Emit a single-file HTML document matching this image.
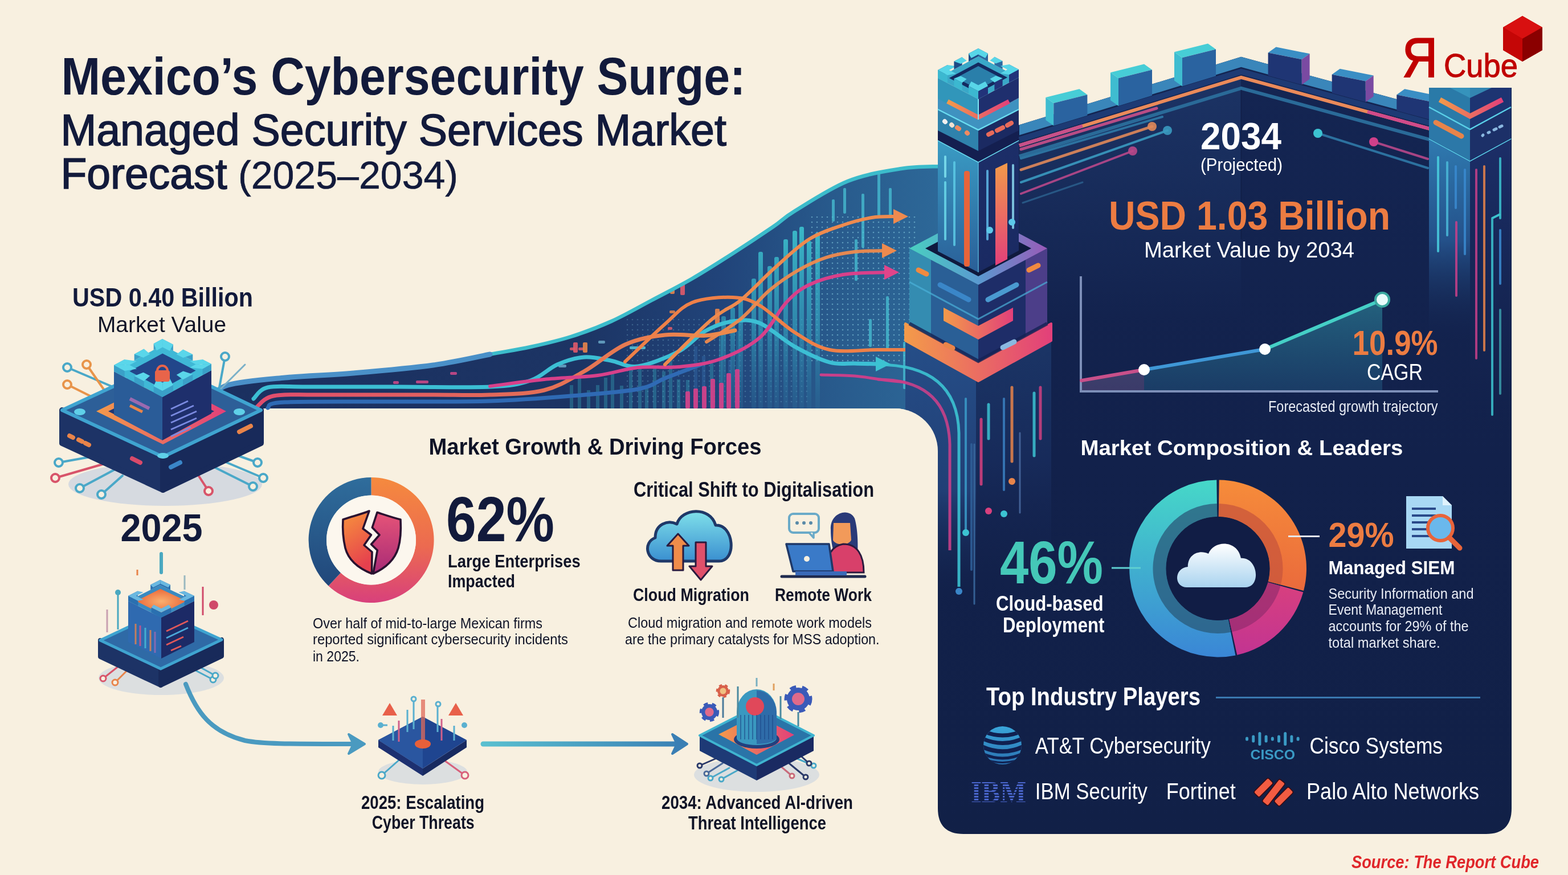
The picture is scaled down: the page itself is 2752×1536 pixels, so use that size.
<!DOCTYPE html>
<html><head><meta charset="utf-8"><title>Mexico's Cybersecurity Surge</title>
<style>html,body{margin:0;padding:0;background:#f8f0e0;}body{width:2752px;height:1536px;overflow:hidden;position:relative;}svg{display:block;position:absolute;left:0;top:0;}</style></head>
<body><svg width="2752" height="1536" viewBox="0 0 2752 1536">
<defs>
<linearGradient id="gWave" x1="0" y1="290" x2="0" y2="717" gradientUnits="userSpaceOnUse">
 <stop offset="0" stop-color="#2f78a6"/><stop offset="0.45" stop-color="#25527f"/><stop offset="1" stop-color="#1b3162"/>
</linearGradient>
<linearGradient id="gWaveH" x1="380" y1="0" x2="1650" y2="0" gradientUnits="userSpaceOnUse">
 <stop offset="0" stop-color="#1b2f5e" stop-opacity="0.6"/><stop offset="0.5" stop-color="#1b2f5e" stop-opacity="0.15"/><stop offset="1" stop-color="#1b2f5e" stop-opacity="0"/>
</linearGradient>
<linearGradient id="gPanel" x1="0" y1="150" x2="0" y2="1464" gradientUnits="userSpaceOnUse">
 <stop offset="0" stop-color="#142552"/><stop offset="0.5" stop-color="#12214b"/><stop offset="1" stop-color="#112047"/>
</linearGradient>
<linearGradient id="gOP" x1="0" y1="0" x2="1" y2="0"><stop offset="0" stop-color="#f39a4a"/><stop offset="1" stop-color="#e2407a"/></linearGradient>
<linearGradient id="gOPv" x1="0" y1="0" x2="0" y2="1"><stop offset="0" stop-color="#f39a4a"/><stop offset="1" stop-color="#e2407a"/></linearGradient>
<linearGradient id="gShaftL" x1="0" y1="0" x2="0" y2="1"><stop offset="0" stop-color="#3a9cc4"/><stop offset="1" stop-color="#2a5f98"/></linearGradient>
<linearGradient id="gShaftR" x1="0" y1="0" x2="0" y2="1"><stop offset="0" stop-color="#1c2e68"/><stop offset="1" stop-color="#1a2a62"/></linearGradient>
<linearGradient id="gRim" x1="0" y1="0" x2="1" y2="0"><stop offset="0" stop-color="#49d0c0"/><stop offset="0.5" stop-color="#5a9ad0"/><stop offset="1" stop-color="#9a5ab8"/></linearGradient>
<linearGradient id="gCol" x1="0" y1="560" x2="0" y2="1060" gradientUnits="userSpaceOnUse">
 <stop offset="0" stop-color="#23477e"/><stop offset="0.5" stop-color="#1b3266"/><stop offset="1" stop-color="#13214b" stop-opacity="0"/>
</linearGradient>
<linearGradient id="gRCol" x1="0" y1="270" x2="0" y2="760" gradientUnits="userSpaceOnUse">
 <stop offset="0" stop-color="#2a6ea4"/><stop offset="0.6" stop-color="#1d3670"/><stop offset="1" stop-color="#13214b" stop-opacity="0"/>
</linearGradient>
<linearGradient id="gTeal" x1="0" y1="0" x2="0" y2="1"><stop offset="0" stop-color="#46d8c8"/><stop offset="1" stop-color="#3a86d6"/></linearGradient>
<linearGradient id="gOr" x1="0" y1="0" x2="0" y2="1"><stop offset="0" stop-color="#f68c3a"/><stop offset="1" stop-color="#ea6a3c"/></linearGradient>
<linearGradient id="gPk" x1="0" y1="0" x2="0" y2="1"><stop offset="0" stop-color="#d8407e"/><stop offset="1" stop-color="#c23492"/></linearGradient>
<linearGradient id="gDonutL" x1="0" y1="0" x2="0" y2="1"><stop offset="0" stop-color="#f58a3e"/><stop offset="0.55" stop-color="#ec6a50"/><stop offset="1" stop-color="#d8407c"/></linearGradient>
<linearGradient id="gBlueL" x1="0" y1="0" x2="0" y2="1"><stop offset="0" stop-color="#2f6d9c"/><stop offset="1" stop-color="#21477a"/></linearGradient>
<linearGradient id="gCloud" x1="0" y1="0" x2="0" y2="1"><stop offset="0" stop-color="#ffffff"/><stop offset="1" stop-color="#a9d3ef"/></linearGradient>
<linearGradient id="gCloud2" x1="0" y1="0" x2="0" y2="1"><stop offset="0" stop-color="#7fe0ea"/><stop offset="1" stop-color="#3a8fd0"/></linearGradient>
<linearGradient id="gArea" x1="0" y1="520" x2="0" y2="690" gradientUnits="userSpaceOnUse"><stop offset="0" stop-color="#2a7a90" stop-opacity="0.75"/><stop offset="1" stop-color="#20507a" stop-opacity="0.55"/></linearGradient>
<linearGradient id="gShield" x1="0" y1="0" x2="1" y2="1"><stop offset="0" stop-color="#f59040"/><stop offset="0.6" stop-color="#e04a6a"/><stop offset="1" stop-color="#b83080"/></linearGradient>
<linearGradient id="gSlab" x1="0" y1="0" x2="1" y2="0"><stop offset="0" stop-color="#2b6aa0"/><stop offset="1" stop-color="#1e3c78"/></linearGradient>
<radialGradient id="gVig" cx="0.5" cy="0.5" r="0.75"><stop offset="0.6" stop-color="#f8f0e0" stop-opacity="0"/><stop offset="1" stop-color="#efe6d4" stop-opacity="0.6"/></radialGradient>
<pattern id="pDots" x="0" y="0" width="9" height="9" patternUnits="userSpaceOnUse"><circle cx="3" cy="3" r="1.3" fill="#8fd6e8" opacity="0.55"/></pattern>
</defs>
<rect x="0" y="0" width="2752" height="1536" fill="#f8f0e0"/>
<linearGradient id="gWaveX" x1="380" y1="0" x2="1650" y2="0" gradientUnits="userSpaceOnUse"><stop offset="0" stop-color="#1b3060"/><stop offset="0.5" stop-color="#1c3464"/><stop offset="0.7" stop-color="#21447a"/><stop offset="0.85" stop-color="#285a8c"/><stop offset="1" stop-color="#2d6898"/></linearGradient>
<path d="M372.0,700.0 C376.7,696.0 378.7,682.2 400.0,676.0 C421.3,669.8 463.3,666.5 500.0,663.0 C536.7,659.5 576.7,658.7 620.0,655.0 C663.3,651.3 720.0,646.5 760.0,641.0 C800.0,635.5 831.5,627.3 860.0,622.0 C888.5,616.7 907.3,614.2 931.0,609.0 C954.7,603.8 978.3,598.5 1002.0,591.0 C1025.7,583.5 1049.3,574.7 1073.0,564.0 C1096.7,553.3 1120.3,539.5 1144.0,527.0 C1167.7,514.5 1191.3,502.7 1215.0,489.0 C1238.7,475.3 1262.3,460.2 1286.0,445.0 C1309.7,429.8 1339.0,410.3 1357.0,398.0 C1375.0,385.7 1372.2,384.3 1394.0,371.0 C1415.8,357.7 1456.7,330.5 1488.0,318.0 C1519.3,305.5 1555.0,300.3 1582.0,296.0 C1609.0,291.7 1638.7,292.7 1650.0,292.0 L1700,291 L1700,800 L1646,800 L1646,792 A75,75 0 0 0 1571,717 L372,717 Z" fill="url(#gWaveX)"/>
<clipPath id="cWave"><path d="M372.0,700.0 C376.7,696.0 378.7,682.2 400.0,676.0 C421.3,669.8 463.3,666.5 500.0,663.0 C536.7,659.5 576.7,658.7 620.0,655.0 C663.3,651.3 720.0,646.5 760.0,641.0 C800.0,635.5 831.5,627.3 860.0,622.0 C888.5,616.7 907.3,614.2 931.0,609.0 C954.7,603.8 978.3,598.5 1002.0,591.0 C1025.7,583.5 1049.3,574.7 1073.0,564.0 C1096.7,553.3 1120.3,539.5 1144.0,527.0 C1167.7,514.5 1191.3,502.7 1215.0,489.0 C1238.7,475.3 1262.3,460.2 1286.0,445.0 C1309.7,429.8 1339.0,410.3 1357.0,398.0 C1375.0,385.7 1372.2,384.3 1394.0,371.0 C1415.8,357.7 1456.7,330.5 1488.0,318.0 C1519.3,305.5 1555.0,300.3 1582.0,296.0 C1609.0,291.7 1638.7,292.7 1650.0,292.0 L1700,291 L1700,800 L1646,800 L1646,792 A75,75 0 0 0 1571,717 L372,717 Z"/></clipPath>
<g clip-path="url(#cWave)">
<rect x="1420" y="380" width="190" height="260" fill="url(#pDots)" opacity="0.9"/>
<rect x="1100" y="560" width="320" height="150" fill="url(#pDots)" opacity="0.45"/>
<rect x="1000" y="676" width="6" height="41" fill="#3cc0cc" opacity="0.3"/>
<rect x="1014" y="657" width="6" height="60" fill="#3cc0cc" opacity="0.3"/>
<rect x="1030" y="685" width="6" height="32" fill="#3cc0cc" opacity="0.3"/>
<rect x="1046" y="676" width="6" height="41" fill="#3cc0cc" opacity="0.3"/>
<rect x="1060" y="663" width="6" height="54" fill="#3cc0cc" opacity="0.3"/>
<rect x="1072" y="653" width="6" height="64" fill="#3cc0cc" opacity="0.3"/>
<rect x="1088" y="677" width="6" height="40" fill="#3cc0cc" opacity="0.3"/>
<rect x="1104" y="641" width="6" height="76" fill="#3cc0cc" opacity="0.3"/>
<rect x="1120" y="640" width="6" height="77" fill="#3cc0cc" opacity="0.3"/>
<rect x="1132" y="677" width="6" height="40" fill="#3cc0cc" opacity="0.3"/>
<rect x="1146" y="647" width="6" height="70" fill="#3cc0cc" opacity="0.3"/>
<rect x="1162" y="652" width="6" height="65" fill="#3cc0cc" opacity="0.3"/>
<rect x="1174" y="628" width="6" height="89" fill="#3cc0cc" opacity="0.3"/>
<rect x="1188" y="666" width="6" height="51" fill="#3cc0cc" opacity="0.3"/>
<rect x="1204" y="667" width="6" height="50" fill="#3cc0cc" opacity="0.3"/>
<rect x="1218" y="608" width="6" height="109" fill="#3a7fc0" opacity="0.3"/>
<rect x="1232" y="625" width="6" height="92" fill="#3a7fc0" opacity="0.3"/>
<rect x="1246" y="638" width="6" height="79" fill="#3cc0cc" opacity="0.3"/>
<rect x="1262" y="585" width="6" height="132" fill="#3cc0cc" opacity="0.3"/>
<rect x="1278" y="632" width="6" height="85" fill="#3a7fc0" opacity="0.3"/>
<rect x="1292" y="581" width="6" height="136" fill="#2f9ec0" opacity="0.3"/>
<linearGradient id="gBar" x1="0" y1="400" x2="0" y2="717" gradientUnits="userSpaceOnUse"><stop offset="0" stop-color="#3cc3cf" stop-opacity="0.9"/><stop offset="0.55" stop-color="#35a8c4" stop-opacity="0.6"/><stop offset="1" stop-color="#2a6a98" stop-opacity="0.35"/></linearGradient>
<rect x="1319" y="489" width="8" height="228" rx="3" fill="url(#gBar)"/>
<rect x="1331" y="442" width="8" height="275" rx="3" fill="url(#gBar)"/>
<rect x="1347" y="467" width="8" height="250" rx="3" fill="url(#gBar)"/>
<rect x="1359" y="451" width="8" height="266" rx="3" fill="url(#gBar)"/>
<rect x="1375" y="420" width="8" height="297" rx="3" fill="url(#gBar)"/>
<rect x="1391" y="405" width="8" height="312" rx="3" fill="url(#gBar)"/>
<rect x="1403" y="398" width="8" height="319" rx="3" fill="url(#gBar)"/>
<rect x="1416" y="423" width="8" height="294" rx="3" fill="url(#gBar)"/>
<rect x="1431" y="408" width="8" height="309" rx="3" fill="url(#gBar)"/>
<rect x="1296" y="520" width="8" height="197" rx="3" fill="url(#gBar)"/>
<rect x="1282" y="540" width="8" height="177" rx="3" fill="url(#gBar)"/>
<rect x="1266" y="555" width="8" height="162" rx="3" fill="url(#gBar)"/>
<rect x="1460" y="350" width="5" height="39" rx="2" fill="#4ac8d8" opacity="0.7"/>
<rect x="1480" y="330" width="5" height="45" rx="2" fill="#4ac8d8" opacity="0.7"/>
<rect x="1512" y="340" width="5" height="95" rx="2" fill="#4ac8d8" opacity="0.7"/>
<rect x="1540" y="300" width="5" height="83" rx="2" fill="#4ac8d8" opacity="0.7"/>
<rect x="1560" y="330" width="5" height="51" rx="2" fill="#4ac8d8" opacity="0.7"/>
<rect x="1500" y="420" width="5" height="73" rx="2" fill="#4ac8d8" opacity="0.7"/>
<rect x="1525" y="560" width="5" height="49" rx="2" fill="#4ac8d8" opacity="0.7"/>
<rect x="1555" y="520" width="5" height="92" rx="2" fill="#4ac8d8" opacity="0.7"/>
<rect x="1585" y="600" width="5" height="83" rx="2" fill="#4ac8d8" opacity="0.7"/>
<rect x="1203" y="687" width="8" height="30" rx="2" fill="#d8408a" opacity="0.9"/>
<rect x="1217" y="682" width="8" height="35" rx="2" fill="#d8408a" opacity="0.9"/>
<rect x="1232" y="678" width="8" height="39" rx="2" fill="#d8408a" opacity="0.9"/>
<rect x="1247" y="665" width="8" height="52" rx="2" fill="#d8408a" opacity="0.9"/>
<rect x="1262" y="672" width="8" height="45" rx="2" fill="#d8408a" opacity="0.9"/>
<rect x="1275" y="655" width="8" height="62" rx="2" fill="#d8408a" opacity="0.9"/>
<rect x="1290" y="648" width="8" height="69" rx="2" fill="#d8408a" opacity="0.9"/>
<rect x="1000" y="610" width="10" height="5" rx="2" fill="#e05a6a" opacity="0.85"/>
<rect x="1015" y="610" width="10" height="5" rx="2" fill="#e05a6a" opacity="0.85"/>
<rect x="980" y="640" width="14" height="5" rx="2" fill="#6aa8c8" opacity="0.85"/>
<rect x="1105" y="608" width="28" height="5" rx="2" fill="#5ac8d8" opacity="0.85"/>
<rect x="1050" y="598" width="12" height="5" rx="2" fill="#6aa8c8" opacity="0.85"/>
<rect x="1172" y="574" width="8" height="5" rx="2" fill="#e05a6a" opacity="0.85"/>
<rect x="1175" y="545" width="10" height="5" rx="2" fill="#e8844a" opacity="0.85"/>
<rect x="690" y="669" width="10" height="5" rx="2" fill="#d04a8a" opacity="0.85"/>
<rect x="730" y="668" width="22" height="5" rx="2" fill="#d04a8a" opacity="0.85"/>
<rect x="790" y="653" width="12" height="5" rx="2" fill="#d04a8a" opacity="0.85"/>
<rect x="1006" y="601" width="8" height="18" rx="2" fill="#e05a6a" opacity="0.9"/>
<rect x="1023" y="601" width="8" height="18" rx="2" fill="#e8844a" opacity="0.9"/>
<rect x="1176" y="488" width="8" height="28" rx="2" fill="#e8844a" opacity="0.9"/>
<rect x="1194" y="488" width="8" height="30" rx="2" fill="#e05a6a" opacity="0.9"/>
<rect x="1255" y="542" width="8" height="28" rx="2" fill="#e8844a" opacity="0.9"/>
</g>
<path d="M445.0,700.0 C449.2,696.7 454.2,683.5 470.0,680.0 C485.8,676.5 501.7,679.2 540.0,679.0 C578.3,678.8 646.7,679.0 700.0,679.0 C753.3,679.0 821.5,680.8 860.0,679.0 C898.5,677.2 911.3,674.5 931.0,668.0 C950.7,661.5 962.3,646.8 978.0,640.0 C993.7,633.2 1009.3,628.2 1025.0,627.0 C1040.7,625.8 1056.2,630.3 1072.0,633.0 C1087.8,635.7 1100.2,645.7 1120.0,643.0 C1139.8,640.3 1171.3,627.3 1191.0,617.0 C1210.7,606.7 1222.2,589.8 1238.0,581.0 C1253.8,572.2 1270.2,566.3 1286.0,564.0 C1301.8,561.7 1315.0,559.7 1333.0,567.0 C1351.0,574.3 1373.5,596.5 1394.0,608.0 C1414.5,619.5 1438.3,631.0 1456.0,636.0 C1473.7,641.0 1485.2,637.5 1500.0,638.0 C1514.8,638.5 1537.5,638.8 1545.0,639.0" fill="none" stroke="#3cbfd4" stroke-width="7" stroke-linecap="round" opacity="1"/>
<linearGradient id="gRO" x1="450" y1="0" x2="1290" y2="0" gradientUnits="userSpaceOnUse"><stop offset="0" stop-color="#e04c6e"/><stop offset="0.5" stop-color="#e2685a"/><stop offset="1" stop-color="#ec8a4a"/></linearGradient>
<path d="M450.0,715.0 C455.0,711.7 461.7,698.7 480.0,695.0 C498.3,691.3 515.0,693.3 560.0,693.0 C605.0,692.7 700.0,693.0 750.0,693.0 C800.0,693.0 825.8,694.3 860.0,693.0 C894.2,691.7 927.5,691.8 955.0,685.0 C982.5,678.2 1001.3,665.3 1025.0,652.0 C1048.7,638.7 1073.3,615.7 1097.0,605.0 C1120.7,594.3 1143.5,590.7 1167.0,588.0 C1190.5,585.3 1217.5,590.3 1238.0,589.0 C1258.5,587.7 1281.3,581.5 1290.0,580.0" fill="none" stroke="url(#gRO)" stroke-width="7" stroke-linecap="round" opacity="1"/>
<path d="M470.0,716.0 C475.0,714.3 461.7,707.8 500.0,706.0 C538.3,704.2 640.0,705.3 700.0,705.0 C760.0,704.7 809.7,705.7 860.0,704.0 C910.3,702.3 958.7,698.5 1002.0,695.0 C1045.3,691.5 1092.5,688.2 1120.0,683.0 C1147.5,677.8 1148.7,671.2 1167.0,664.0 C1185.3,656.8 1219.5,644.0 1230.0,640.0" fill="none" stroke="#2f6ab4" stroke-width="7" stroke-linecap="round" opacity="1"/>
<path d="M860.0,678.0 C875.8,676.0 923.5,669.2 955.0,666.0 C986.5,662.8 1021.5,662.5 1049.0,659.0 C1076.5,655.5 1096.3,647.5 1120.0,645.0 C1143.7,642.5 1167.3,646.3 1191.0,644.0 C1214.7,641.7 1238.3,639.5 1262.0,631.0 C1285.7,622.5 1313.3,609.7 1333.0,593.0 C1352.7,576.3 1365.5,546.5 1380.0,531.0 C1394.5,515.5 1403.3,508.2 1420.0,500.0 C1436.7,491.8 1457.5,485.7 1480.0,482.0 C1502.5,478.3 1542.5,478.7 1555.0,478.0" fill="none" stroke="#d8408a" stroke-width="6" stroke-linecap="round" opacity="1"/>
<path d="M1097.0,635.0 C1108.7,624.0 1147.3,586.3 1167.0,569.0 C1186.7,551.7 1195.2,538.8 1215.0,531.0 C1234.8,523.2 1266.3,521.2 1286.0,522.0 C1305.7,522.8 1315.0,525.8 1333.0,536.0 C1351.0,546.2 1373.5,570.0 1394.0,583.0 C1414.5,596.0 1431.7,608.8 1456.0,614.0 C1480.3,619.2 1512.7,614.0 1540.0,614.0 C1567.3,614.0 1606.7,614.0 1620.0,614.0" fill="none" stroke="#ee8048" stroke-width="6" stroke-linecap="round" opacity="1"/>
<path d="M1167.0,640.0 C1180.8,626.7 1227.8,578.8 1250.0,560.0 C1272.2,541.2 1281.7,542.0 1300.0,527.0 C1318.3,512.0 1340.0,487.8 1360.0,470.0 C1380.0,452.2 1400.0,432.5 1420.0,420.0 C1440.0,407.5 1461.7,401.3 1480.0,395.0 C1498.3,388.7 1514.7,384.5 1530.0,382.0 C1545.3,379.5 1565.0,380.3 1572.0,380.0" fill="none" stroke="#ee8a4e" stroke-width="6" stroke-linecap="round" opacity="1"/>
<path d="M1240.0,600.0 C1250.0,593.3 1281.7,575.0 1300.0,560.0 C1318.3,545.0 1333.3,524.2 1350.0,510.0 C1366.7,495.8 1383.3,484.7 1400.0,475.0 C1416.7,465.3 1433.3,457.5 1450.0,452.0 C1466.7,446.5 1483.0,444.0 1500.0,442.0 C1517.0,440.0 1543.3,440.3 1552.0,440.0" fill="none" stroke="#ee8a4e" stroke-width="6" stroke-linecap="round" opacity="0.95"/>
<path d="M1441.0,658.0 C1450.8,658.3 1480.2,658.3 1500.0,660.0 C1519.8,661.7 1540.0,665.7 1560.0,668.0 C1580.0,670.3 1610.0,673.0 1620.0,674.0" fill="none" stroke="#c8408a" stroke-width="5" stroke-linecap="round" opacity="1"/>
<path d="M1568,367 L1594,380 L1568,393 Z" fill="#ee8a4e"/>
<path d="M1548,427 L1574,440 L1548,453 Z" fill="#ee8a4e"/>
<path d="M1552,465 L1578,478 L1552,491 Z" fill="#e0458a"/>
<path d="M1537,626 L1563,639 L1537,652 Z" fill="#3cc3d2"/>
<path d="M372.0,700.0 C376.7,696.0 378.7,682.2 400.0,676.0 C421.3,669.8 463.3,666.5 500.0,663.0 C536.7,659.5 576.7,658.7 620.0,655.0 C663.3,651.3 720.0,646.5 760.0,641.0 C800.0,635.5 831.5,627.3 860.0,622.0 C888.5,616.7 907.3,614.2 931.0,609.0 C954.7,603.8 978.3,598.5 1002.0,591.0 C1025.7,583.5 1049.3,574.7 1073.0,564.0 C1096.7,553.3 1120.3,539.5 1144.0,527.0 C1167.7,514.5 1191.3,502.7 1215.0,489.0 C1238.7,475.3 1262.3,460.2 1286.0,445.0 C1309.7,429.8 1339.0,410.3 1357.0,398.0 C1375.0,385.7 1372.2,384.3 1394.0,371.0 C1415.8,357.7 1456.7,330.5 1488.0,318.0 C1519.3,305.5 1555.0,300.3 1582.0,296.0 C1609.0,291.7 1638.7,292.7 1650.0,292.0" fill="none" stroke="#3cbccb" stroke-width="6.5" stroke-linecap="round"/>
<path d="M372.0,700.0 C376.7,696.0 378.7,682.2 400.0,676.0 C421.3,669.8 463.3,666.5 500.0,663.0 C536.7,659.5 576.7,658.7 620.0,655.0 C663.3,651.3 720.0,646.5 760.0,641.0 C800.0,635.5 843.3,625.2 860.0,622.0" fill="none" stroke="#4a90c8" stroke-width="9" stroke-linecap="round"/>
<path d="M1646,245 L1789,219.3 L2178.3,99.8 L2508.8,189.8 L2508.8,154 L2653,154 L2653,1419 Q2653,1464 2608,1464 L1691,1464 Q1646,1464 1646,1419 Z" fill="url(#gPanel)"/>
<linearGradient id="gWall" x1="0" y1="150" x2="0" y2="560" gradientUnits="userSpaceOnUse"><stop offset="0" stop-color="#1d3668" stop-opacity="0.8"/><stop offset="1" stop-color="#1d3668" stop-opacity="0"/></linearGradient>
<path d="M1789,260 L2178,135 L2178,560 L1789,560 Z" fill="url(#gWall)"/>
<path d="M1789.0,219.3 L2178.3,99.8 L2508.8,189.8 L2508.8,207.8 L2178.3,117.8 L1789,237.3 Z" fill="#3a86ba"/>
<path d="M1789.0,245.3 L2178.3,125.8 L2508.8,215.8" fill="none" stroke="#1d3a74" stroke-width="10"/>
<path d="M1789.0,255.3 L2178.3,135.8 L2508.8,225.8" fill="none" stroke="#ea8a5a" stroke-width="6"/>
<path d="M1789,255.3 L1900,221.2" fill="none" stroke="#c8508a" stroke-width="6"/>
<path d="M2400,196.2 L2508,225.6" fill="none" stroke="#d04a8a" stroke-width="6"/>
<path d="M1789.0,274.3 L2178.3,154.8 L2508.8,244.8" fill="none" stroke="#2a6a98" stroke-width="6"/>
<path d="M2178.3,157.8 L2178.3,420" stroke="#0f1b40" stroke-width="2" opacity="0.5"/>
<path d="M1849.3,181.0 L1835.3,171.0 L1835.3,210.8 L1849.3,220.8 Z" fill="#3fbcd0"/>
<path d="M1849.3,181.0 L1908.4,166.2 L1894.4,156.2 L1835.3,171.0 Z" fill="#47cdd6"/>
<path d="M1849.3,181.0 L1908.4,166.2 L1908.4,202.7 L1849.3,220.8 Z" fill="#2a63a0"/>
<path d="M1963.0,137.3 L1949.0,127.3 L1949.0,175.9 L1963.0,185.9 Z" fill="#3fbcd0"/>
<path d="M1963.0,137.3 L2022.0,122.5 L2008.0,112.5 L1949.0,127.3 Z" fill="#47cdd6"/>
<path d="M1963.0,137.3 L2022.0,122.5 L2022.0,167.8 L1963.0,185.9 Z" fill="#2a63a0"/>
<path d="M2075.0,101.3 L2061.0,91.3 L2061.0,141.5 L2075.0,151.5 Z" fill="#3fbcd0"/>
<path d="M2075.0,101.3 L2134.0,86.5 L2120.0,76.5 L2061.0,91.3 Z" fill="#47cdd6"/>
<path d="M2075.0,101.3 L2134.0,86.5 L2134.0,133.4 L2075.0,151.5 Z" fill="#2a63a0"/>
<path d="M2225.6,92.5 L2284.6,104.3 L2298.6,94.3 L2239.6,82.5 Z" fill="#3a8ec4"/>
<path d="M2284.6,104.3 L2298.6,94.3 L2298.6,138.8 L2284.6,148.8 Z" fill="#7a4aa2"/>
<path d="M2225.6,92.5 L2284.6,104.3 L2284.6,148.8 L2225.6,132.7 Z" fill="#1f3574"/>
<path d="M2337.7,130.8 L2396.7,142.6 L2410.7,132.6 L2351.7,120.8 Z" fill="#3a8ec4"/>
<path d="M2396.7,142.6 L2410.7,132.6 L2410.7,169.3 L2396.7,179.3 Z" fill="#7a4aa2"/>
<path d="M2337.7,130.8 L2396.7,142.6 L2396.7,179.3 L2337.7,163.2 Z" fill="#1f3574"/>
<path d="M2451.3,166.2 L2508.8,178.0 L2522.8,168.0 L2465.3,156.2 Z" fill="#3a8ec4"/>
<path d="M2508.8,178.0 L2522.8,168.0 L2522.8,199.8 L2508.8,209.8 Z" fill="#7a4aa2"/>
<path d="M2451.3,166.2 L2508.8,178.0 L2508.8,209.8 L2451.3,194.2 Z" fill="#1f3574"/>
<line x1="1792" y1="262" x2="2030" y2="190" stroke="#c8508a" stroke-width="5" stroke-linecap="round" opacity="0.9"/>
<line x1="1792" y1="278" x2="2040" y2="205" stroke="#2f7aa8" stroke-width="4" stroke-linecap="round" opacity="0.9"/>
<line x1="1792" y1="298" x2="2022" y2="222" stroke="#e0885a" stroke-width="5" stroke-linecap="round" opacity="0.9"/>
<circle cx="2022" cy="222" r="8" fill="#e0885a" opacity="0.9"/>
<line x1="1792" y1="320" x2="2049" y2="229" stroke="#3a9ac0" stroke-width="4" stroke-linecap="round" opacity="0.9"/>
<circle cx="2049" cy="229" r="8" fill="#3a9ac0" opacity="0.9"/>
<line x1="1792" y1="340" x2="1988" y2="265" stroke="#b8488a" stroke-width="4" stroke-linecap="round" opacity="0.9"/>
<circle cx="1988" cy="265" r="8" fill="#b8488a" opacity="0.9"/>
<line x1="1795" y1="356" x2="1900" y2="320" stroke="#2f6a98" stroke-width="3" stroke-linecap="round" opacity="0.7"/>
<line x1="2313" y1="234" x2="2506" y2="295" stroke="#2f7aa8" stroke-width="4" stroke-linecap="round" opacity="0.9"/>
<circle cx="2313" cy="234" r="8" fill="#3cc3d2"/>
<line x1="2411" y1="249" x2="2506" y2="279" stroke="#b8488a" stroke-width="4" stroke-linecap="round" opacity="0.9"/>
<circle cx="2411" cy="249" r="8" fill="#d0408a"/>
<line x1="2210" y1="210" x2="2508" y2="268" stroke="#1f4a80" stroke-width="3" stroke-linecap="round" opacity="0.0"/>
<linearGradient id="gRTL" x1="0" y1="243" x2="0" y2="600" gradientUnits="userSpaceOnUse"><stop offset="0" stop-color="#2f7ab0"/><stop offset="0.5" stop-color="#24518a"/><stop offset="1" stop-color="#14244f" stop-opacity="0"/></linearGradient>
<linearGradient id="gRTR" x1="0" y1="243" x2="0" y2="760" gradientUnits="userSpaceOnUse"><stop offset="0" stop-color="#1c2e68"/><stop offset="1" stop-color="#14244f" stop-opacity="0"/></linearGradient>
<path d="M2508,243 L2580,282 L2580,620 L2508,620 Z" fill="url(#gRTL)"/>
<path d="M2580,282 L2652,243 L2652,760 L2580,760 Z" fill="url(#gRTR)"/>
<path d="M2508,243 L2580,282 L2652,243" fill="none" stroke="#5ad0e8" stroke-width="3"/>
<path d="M2508,154 L2580,154 L2580,227 L2508,188 Z" fill="#2a7aa8"/>
<path d="M2580,154 L2652,154 L2652,188 L2580,227 Z" fill="#1d3472"/>
<path d="M2545,154 L2580,172 L2618,154 Z" fill="#3a9ac0" opacity="0.8"/>
<path d="M2527,175 L2580,204 L2637,175" fill="none" stroke="url(#gOP)" stroke-width="9"/>
<path d="M2508,188 L2580,227 L2652,188 L2652,243 L2580,282 L2508,243 Z" fill="#1c3068"/>
<path d="M2508,188 L2580,227 L2580,282 L2508,243 Z" fill="#2c78a8"/>
<path d="M2508,188 L2580,227 L2652,188" fill="none" stroke="#5ad0e8" stroke-width="2.5"/>
<path d="M2520,215 L2565,239" stroke="#e8844a" stroke-width="9" stroke-linecap="round"/>
<line x1="2602" y1="238" x2="2603" y2="237" stroke="#8ab8e0" stroke-width="5" stroke-linecap="round"/>
<line x1="2612" y1="233" x2="2614" y2="232" stroke="#8ab8e0" stroke-width="5" stroke-linecap="round"/>
<line x1="2622" y1="228" x2="2626" y2="226" stroke="#8ab8e0" stroke-width="5" stroke-linecap="round"/>
<line x1="2632" y1="223" x2="2636" y2="221" stroke="#8ab8e0" stroke-width="5" stroke-linecap="round"/>
<line x1="2524" y1="276" x2="2524" y2="441" stroke="#4ad0e0" stroke-width="4" stroke-linecap="round" opacity="0.85"/>
<line x1="2540" y1="285" x2="2540" y2="413" stroke="#4ab8d8" stroke-width="4" stroke-linecap="round" opacity="0.85"/>
<line x1="2555" y1="292" x2="2555" y2="365" stroke="#3a8ad0" stroke-width="4" stroke-linecap="round" opacity="0.85"/>
<line x1="2571" y1="298" x2="2571" y2="446" stroke="#3a8ad0" stroke-width="4" stroke-linecap="round" opacity="0.85"/>
<line x1="2556" y1="390" x2="2556" y2="519" stroke="#c8408a" stroke-width="4" stroke-linecap="round" opacity="0.85"/>
<line x1="2591" y1="298" x2="2591" y2="629" stroke="#c8408a" stroke-width="4" stroke-linecap="round" opacity="0.85"/>
<line x1="2605" y1="292" x2="2605" y2="615" stroke="#e8844a" stroke-width="4" stroke-linecap="round" opacity="0.85"/>
<line x1="2633" y1="278" x2="2633" y2="383" stroke="#3cc3cf" stroke-width="4" stroke-linecap="round" opacity="0.85"/>
<line x1="2619" y1="383" x2="2619" y2="728" stroke="#3cc3cf" stroke-width="4" stroke-linecap="round" opacity="0.85"/>
<line x1="2633" y1="404" x2="2633" y2="498" stroke="#3a8ad0" stroke-width="4" stroke-linecap="round" opacity="0.85"/>
<line x1="2633" y1="544" x2="2633" y2="691" stroke="#3a9aa8" stroke-width="4" stroke-linecap="round" opacity="0.85"/>
<path d="M2619,383 L2633,376" stroke="#3cc3cf" stroke-width="4"/>
<linearGradient id="gColL" x1="0" y1="560" x2="0" y2="1060" gradientUnits="userSpaceOnUse"><stop offset="0" stop-color="#26508a"/><stop offset="0.6" stop-color="#213f76"/><stop offset="1" stop-color="#13214b" stop-opacity="0"/></linearGradient>
<path d="M1589,590 L1713,590 L1713,1080 L1589,1080 Z" fill="url(#gColL)"/>
<path d="M1713,570 L1845,570 L1845,1060 L1713,1060 Z" fill="url(#gCol)" opacity="0.55"/>
<path d="M1480,717 L1571,717 A75,75 0 0 1 1646,792 L1646,1200 L1480,1200 Z" fill="#f8f0e0"/>
<path d="M1540,666 Q1664,666 1667,780 L1667,966" fill="none" stroke="#c8408a" stroke-width="5" opacity="0.9"/>
<path d="M1540,640 Q1680,640 1683,760 L1683,1030" fill="none" stroke="#3cc3d2" stroke-width="5" opacity="0.9"/>
<line x1="1695" y1="700" x2="1695" y2="935" stroke="#3a9ac8" stroke-width="4" stroke-linecap="round" opacity="0.85"/>
<line x1="1722" y1="736" x2="1722" y2="850" stroke="#d8407e" stroke-width="5" stroke-linecap="round" opacity="0.85"/>
<line x1="1735" y1="710" x2="1735" y2="770" stroke="#3cc3d2" stroke-width="5" stroke-linecap="round" opacity="0.85"/>
<line x1="1762" y1="700" x2="1762" y2="860" stroke="#3a7fc0" stroke-width="4" stroke-linecap="round" opacity="0.85"/>
<line x1="1776" y1="680" x2="1776" y2="810" stroke="#e8844a" stroke-width="5" stroke-linecap="round" opacity="0.85"/>
<line x1="1790" y1="760" x2="1790" y2="900" stroke="#4a6aa0" stroke-width="3" stroke-linecap="round" opacity="0.85"/>
<line x1="1815" y1="690" x2="1815" y2="800" stroke="#3cc3d2" stroke-width="5" stroke-linecap="round" opacity="0.85"/>
<line x1="1826" y1="680" x2="1826" y2="770" stroke="#d04080" stroke-width="5" stroke-linecap="round" opacity="0.85"/>
<line x1="1705" y1="780" x2="1705" y2="1000" stroke="#2f5f98" stroke-width="4" stroke-linecap="round" opacity="0.85"/>
<line x1="1710" y1="780" x2="1710" y2="1060" stroke="#3a6aa0" stroke-width="3" stroke-linecap="round" opacity="0.85"/>
<circle cx="1695" cy="935" r="6" fill="#3cc3d2"/>
<circle cx="1735" cy="897" r="6" fill="#d8407e"/>
<circle cx="1762" cy="902" r="6" fill="#3cc3d2"/>
<circle cx="1776" cy="845" r="6" fill="#e8844a"/>
<circle cx="1683" cy="1038" r="6" fill="#3a86c8"/>
<path d="M1596,436 L1717,500 L1717,640 L1596,576 Z" fill="#2a5f96"/>
<path d="M1717,500 L1838,436 L1838,576 L1717,640 Z" fill="#1e2d68"/>
<path d="M1838,436 L1838,576 L1800,596 L1800,456 Z" fill="#6a4aa0" opacity="0.6"/>
<path d="M1596,436 L1634,456 L1634,596 L1596,576 Z" fill="#3cb0c8" opacity="0.55"/>
<path d="M1596,495 L1717,560 L1838,495" fill="none" stroke="#4ab0d8" stroke-width="3" opacity="0.7"/>
<path d="M1656,540 L1717,572 L1778,540 L1778,563 L1717,596 L1656,563 Z" fill="url(#gOP)"/>
<path d="M1589,568 L1717,638 L1845,568 L1845,598 L1717,669 L1589,598 Z" fill="url(#gOP)" stroke="url(#gOP)" stroke-width="4" stroke-linejoin="round"/>
<path d="M1596,568 L1717,634 L1838,568" fill="none" stroke="#142254" stroke-width="6" opacity="0.8"/>
<line x1="1612" y1="474" x2="1626" y2="481" stroke="#f08a40" stroke-width="9" stroke-linecap="round"/>
<line x1="1806" y1="474" x2="1822" y2="466" stroke="#f08a40" stroke-width="9" stroke-linecap="round"/>
<line x1="1650" y1="500" x2="1700" y2="526" stroke="#3a86c8" stroke-width="9" stroke-linecap="round"/>
<line x1="1734" y1="526" x2="1784" y2="500" stroke="#4a9ad0" stroke-width="9" stroke-linecap="round"/>
<line x1="1660" y1="605" x2="1672" y2="611" stroke="#e8844a" stroke-width="9" stroke-linecap="round"/>
<line x1="1760" y1="610" x2="1780" y2="600" stroke="#8ab8e0" stroke-width="9" stroke-linecap="round"/>
<path d="M1596,436 L1717,372 L1838,436 L1717,500 Z" fill="url(#gRim)"/>
<path d="M1624,436 L1717,387 L1810,436 L1717,485 Z" fill="#0f1a3e"/>
<path d="M1646,246 L1717,284 L1717,478 L1646,441 Z" fill="url(#gShaftL)"/>
<path d="M1717,284 L1788,246 L1788,440 L1717,478 Z" fill="url(#gShaftR)"/>
<path d="M1646,246 L1717,284 L1788,246" fill="none" stroke="#6adcf0" stroke-width="3"/>
<path d="M1717,284 L1717,478" stroke="#62c8e8" stroke-width="2" opacity="0.6"/>
<path d="M1747,296 L1768,286 L1768,455 L1747,466 Z" fill="url(#gOPv)"/>
<rect x="1692" y="300" width="10" height="168" rx="4" fill="#e8643a"/>
<line x1="1659" y1="275" x2="1659" y2="310" stroke="#7fe2f0" stroke-width="4" stroke-linecap="round" opacity="0.85"/>
<line x1="1659" y1="320" x2="1659" y2="420" stroke="#6ad8ea" stroke-width="4" stroke-linecap="round" opacity="0.85"/>
<line x1="1675" y1="285" x2="1675" y2="430" stroke="#5ccae6" stroke-width="4" stroke-linecap="round" opacity="0.85"/>
<line x1="1733" y1="300" x2="1733" y2="420" stroke="#5fb8e8" stroke-width="4" stroke-linecap="round" opacity="0.85"/>
<line x1="1778" y1="290" x2="1778" y2="400" stroke="#8ad8f0" stroke-width="4" stroke-linecap="round" opacity="0.85"/>
<circle cx="1737" cy="404" r="6" fill="#5cc8e8"/><circle cx="1776" cy="390" r="6" fill="#5cc8e8"/>
<path d="M1646,226 L1717,262 L1788,226 L1788,246 L1717,284 L1646,246 Z" fill="#141f50"/>
<path d="M1646,192 L1717,228 L1717,265 L1646,229 Z" fill="#2f82ac"/>
<path d="M1717,228 L1788,192 L1788,229 L1717,265 Z" fill="#1b2a62"/>
<path d="M1646,172 L1717,209 L1788,172 L1788,192 L1717,228 L1646,192 Z" fill="#3f92c0"/>
<path d="M1646,192 L1717,228 L1788,192" fill="none" stroke="#6adcf0" stroke-width="2.5"/>
<line x1="1658" y1="213" x2="1659" y2="214" stroke="#f0f0f0" stroke-width="8" stroke-linecap="round"/>
<line x1="1670" y1="219" x2="1671" y2="220" stroke="#f0e0d0" stroke-width="8" stroke-linecap="round"/>
<line x1="1680" y1="224" x2="1683" y2="226" stroke="#f08a60" stroke-width="8" stroke-linecap="round"/>
<line x1="1697" y1="233" x2="1698" y2="234" stroke="#f08a60" stroke-width="8" stroke-linecap="round"/>
<line x1="1735" y1="236" x2="1741" y2="233" stroke="#e86a5a" stroke-width="8" stroke-linecap="round"/>
<line x1="1750" y1="229" x2="1760" y2="224" stroke="#e86a5a" stroke-width="8" stroke-linecap="round"/>
<line x1="1768" y1="220" x2="1775" y2="216" stroke="#e86a5a" stroke-width="8" stroke-linecap="round"/>
<path d="M1646.0,137.0 L1717.0,174.0 L1717.0,210.0 L1646.0,173.0 Z" fill="#3196ba"/>
<path d="M1717.0,174.0 L1788.0,136.0 L1788.0,172.0 L1717.0,210.0 Z" fill="#1f2f6e"/>
<path d="M1646.0,137.0 L1717.0,99.0 L1788.0,136.0 L1717.0,174.0 Z" fill="#3aa8c8"/>
<path d="M1665.9,136.9 L1717.0,109.5 L1768.1,136.1 L1717.0,163.5 Z" fill="#142a60"/>
<path d="M1678.0,136.8 L1717.0,115.9 L1756.0,136.2 L1717.0,157.1 Z" fill="#2a7faa"/>
<path d="M1646.0,137.0 L1663.0,127.9 L1663.0,113.9 L1646.0,123.0 Z" fill="#1d4a86"/>
<path d="M1646.0,123.0 L1663.0,113.9 L1678.1,116.3 L1665.9,122.9 Z" fill="#58d6e8"/>
<path d="M1674.4,121.8 L1688.6,114.2 L1688.6,100.2 L1674.4,107.8 Z" fill="#1d4a86"/>
<path d="M1674.4,107.8 L1688.6,100.2 L1696.6,106.4 L1686.3,111.9 Z" fill="#58d6e8"/>
<path d="M1700.0,108.1 L1717.0,99.0 L1717.0,85.0 L1700.0,94.1 Z" fill="#1d4a86"/>
<path d="M1700.0,94.1 L1717.0,85.0 L1717.0,95.5 L1704.7,102.1 Z" fill="#58d6e8"/>
<path d="M1717.0,99.0 L1734.0,107.9 L1734.0,93.9 L1717.0,85.0 Z" fill="#2a68a0"/>
<path d="M1717.0,85.0 L1734.0,93.9 L1729.3,101.9 L1717.0,95.5 Z" fill="#58d6e8"/>
<path d="M1745.4,113.8 L1759.6,121.2 L1759.6,107.2 L1745.4,99.8 Z" fill="#2a68a0"/>
<path d="M1745.4,99.8 L1759.6,107.2 L1747.7,111.5 L1737.4,106.2 Z" fill="#58d6e8"/>
<path d="M1771.0,127.1 L1788.0,136.0 L1788.0,122.0 L1771.0,113.1 Z" fill="#2a68a0"/>
<path d="M1771.0,113.1 L1788.0,122.0 L1768.1,122.1 L1755.9,115.7 Z" fill="#58d6e8"/>
<path d="M1646.0,137.0 L1663.0,145.9 L1663.0,131.9 L1646.0,123.0 Z" fill="#3cb8d0"/>
<path d="M1646.0,123.0 L1663.0,131.9 L1678.1,129.3 L1665.9,122.9 Z" fill="#58d6e8"/>
<path d="M1674.4,151.8 L1688.6,159.2 L1688.6,145.2 L1674.4,137.8 Z" fill="#3cb8d0"/>
<path d="M1674.4,137.8 L1688.6,145.2 L1696.6,138.8 L1686.3,133.5 Z" fill="#58d6e8"/>
<path d="M1700.0,165.1 L1717.0,174.0 L1717.0,160.0 L1700.0,151.1 Z" fill="#3cb8d0"/>
<path d="M1700.0,151.1 L1717.0,160.0 L1717.0,149.5 L1704.7,143.1 Z" fill="#58d6e8"/>
<path d="M1717.0,174.0 L1734.0,164.9 L1734.0,150.9 L1717.0,160.0 Z" fill="#22337a"/>
<path d="M1717.0,160.0 L1734.0,150.9 L1729.3,142.9 L1717.0,149.5 Z" fill="#58d6e8"/>
<path d="M1745.4,158.8 L1759.6,151.2 L1759.6,137.2 L1745.4,144.8 Z" fill="#22337a"/>
<path d="M1745.4,144.8 L1759.6,137.2 L1747.7,133.1 L1737.4,138.6 Z" fill="#58d6e8"/>
<path d="M1771.0,145.1 L1788.0,136.0 L1788.0,122.0 L1771.0,131.1 Z" fill="#22337a"/>
<path d="M1771.0,131.1 L1788.0,122.0 L1768.1,122.1 L1755.9,128.7 Z" fill="#58d6e8"/>
<path d="M1663,178 L1717,206 L1771,178" fill="none" stroke="url(#gOP)" stroke-width="8"/>
<path d="M1717,174 L1717,210" stroke="#7fe6f4" stroke-width="2"/>
<path d="M1898,668 L2008,649 L2220,613 L2426,526 L2426,687 L1898,687 Z" fill="url(#gArea)"/>
<path d="M1898,668 L2008,649 L2008,687 L1898,687 Z" fill="#7a3a70" opacity="0.35"/>
<line x1="1897" y1="485" x2="1897" y2="689" stroke="#7d8fb8" stroke-width="4"/>
<line x1="1895" y1="687" x2="2524" y2="687" stroke="#7d8fb8" stroke-width="4"/>
<line x1="1898" y1="668" x2="2008" y2="649" stroke="#c8508a" stroke-width="6" stroke-linecap="round"/>
<line x1="2008" y1="649" x2="2220" y2="613" stroke="#3f97d6" stroke-width="6" stroke-linecap="round"/>
<line x1="2220" y1="613" x2="2426" y2="526" stroke="#45cfc6" stroke-width="6" stroke-linecap="round"/>
<circle cx="2008" cy="649" r="10" fill="#ffffff"/><circle cx="2220" cy="613" r="10" fill="#ffffff"/>
<circle cx="2426" cy="526" r="12" fill="#e8fbfb" stroke="#3aa8a0" stroke-width="4"/>
<path d="M2139.7,842.5 A155.5,155.5 0 0 1 2288.0,1036.9 L2225.6,1020.8 A91,91 0 0 0 2138.8,907.0 Z" fill="url(#gOr)"/>
<path d="M2287.3,1039.6 A155.5,155.5 0 0 1 2171.2,1149.8 L2157.2,1086.8 A91,91 0 0 0 2225.2,1022.3 Z" fill="url(#gPk)"/>
<path d="M2168.5,1150.4 A155.5,155.5 0 1 1 2135.3,842.5 L2136.2,907.0 A91,91 0 1 0 2155.6,1087.2 Z" fill="url(#gTeal)"/>
<path d="M2139.1,884.0 A114,114 0 0 1 2247.9,1026.5 L2225.6,1020.8 A91,91 0 0 0 2138.8,907.0 Z" fill="#c8553c" opacity="0.75"/>
<path d="M2247.4,1028.5 A114,114 0 0 1 2162.2,1109.3 L2157.2,1086.8 A91,91 0 0 0 2225.2,1022.3 Z" fill="#8a2a6a" opacity="0.6"/>
<path d="M2160.2,1109.7 A114,114 0 1 1 2135.9,884.0 L2136.2,907.0 A91,91 0 1 0 2155.6,1087.2 Z" fill="#2a5a7a" opacity="0.75"/>
<circle cx="2137.5" cy="998" r="91" fill="#111d45"/>
<path d="M2082.9,1031.0 C2060.1,1031.0 2060.1,996.8 2084.8,994.9 C2084.8,972.1 2105.7,964.5 2120.9,972.1 C2130.4,947.4 2172.2,947.4 2177.9,979.7 C2208.3,977.8 2214.0,1031.0 2185.5,1031.0 Z" fill="url(#gCloud)"/>
<line x1="1951" y1="997" x2="2002" y2="997" stroke="#5fd0d0" stroke-width="3"/>
<line x1="2261" y1="941.5" x2="2316" y2="941.5" stroke="#e8e8f0" stroke-width="3"/>
<path d="M2468,871 L2532,871 L2548,887 L2548,963 L2468,963 Z" fill="#a8d8f4"/>
<path d="M2532,871 L2532,887 L2548,887 Z" fill="#e0f2fc"/>
<line x1="2478" y1="893" x2="2520" y2="893" stroke="#2a4a8a" stroke-width="4"/>
<line x1="2478" y1="905" x2="2520" y2="905" stroke="#2a4a8a" stroke-width="4"/>
<line x1="2478" y1="917" x2="2520" y2="917" stroke="#2a4a8a" stroke-width="4"/>
<line x1="2478" y1="929" x2="2520" y2="929" stroke="#2a4a8a" stroke-width="4"/>
<line x1="2478" y1="941" x2="2520" y2="941" stroke="#2a4a8a" stroke-width="4"/>
<circle cx="2528" cy="927" r="22" fill="#6ab8ec" stroke="#e8643a" stroke-width="6"/>
<line x1="2544" y1="944" x2="2562" y2="962" stroke="#e8643a" stroke-width="9" stroke-linecap="round"/>
<line x1="2134" y1="1224.5" x2="2598" y2="1224.5" stroke="#3a78b0" stroke-width="3"/>
<clipPath id="cGlobe"><circle cx="1759.5" cy="1308.5" r="33.5"/></clipPath>
<linearGradient id="gGlobe" x1="0" y1="0" x2="0" y2="1"><stop offset="0" stop-color="#3aa6da"/><stop offset="1" stop-color="#2a70b0"/></linearGradient>
<circle cx="1759.5" cy="1308.5" r="33.5" fill="url(#gGlobe)"/>
<g clip-path="url(#cGlobe)">
<path d="M1722,1282 Q1759.5,1300 1797,1282" fill="none" stroke="#102050" stroke-width="7"/>
<path d="M1722,1295.5 Q1759.5,1313.5 1797,1295.5" fill="none" stroke="#102050" stroke-width="7"/>
<path d="M1722,1310 Q1759.5,1328 1797,1310" fill="none" stroke="#102050" stroke-width="7.5"/>
<path d="M1722,1322 Q1759.5,1340 1797,1322" fill="none" stroke="#102050" stroke-width="5"/>
<path d="M1722,1329.5 Q1759.5,1347.5 1797,1329.5" fill="none" stroke="#102050" stroke-width="3"/>
</g>
<rect x="2186.0" y="1293.5" width="5" height="7" rx="2.5" fill="#3a9ac4"/>
<rect x="2197.2" y="1290.5" width="5" height="13" rx="2.5" fill="#3a9ac4"/>
<rect x="2208.4" y="1285.0" width="5" height="24" rx="2.5" fill="#3a9ac4"/>
<rect x="2219.6" y="1290.5" width="5" height="13" rx="2.5" fill="#3a9ac4"/>
<rect x="2230.8" y="1293.5" width="5" height="7" rx="2.5" fill="#3a9ac4"/>
<rect x="2242.0" y="1290.5" width="5" height="13" rx="2.5" fill="#3a9ac4"/>
<rect x="2253.2" y="1285.0" width="5" height="24" rx="2.5" fill="#3a9ac4"/>
<rect x="2264.4" y="1290.5" width="5" height="13" rx="2.5" fill="#3a9ac4"/>
<rect x="2275.6" y="1293.5" width="5" height="7" rx="2.5" fill="#3a9ac4"/>
<text x="1704" y="1408" font-family="'Liberation Serif', serif" font-size="52" font-weight="bold" fill="#4a66cc" textLength="97" lengthAdjust="spacingAndGlyphs">IBM</text>
<rect x="1700" y="1375" width="104" height="2" fill="#12214b"/>
<rect x="1700" y="1380" width="104" height="2" fill="#12214b"/>
<rect x="1700" y="1385" width="104" height="2" fill="#12214b"/>
<rect x="1700" y="1390" width="104" height="2" fill="#12214b"/>
<rect x="1700" y="1395" width="104" height="2" fill="#12214b"/>
<rect x="1700" y="1400" width="104" height="2" fill="#12214b"/>
<rect x="1700" y="1405" width="104" height="2" fill="#12214b"/>
<rect x="1700" y="1410" width="104" height="2" fill="#12214b"/>
<g transform="translate(2217.5,1382.7) rotate(-45)"><rect x="-18.0" y="-6.8" width="36" height="13.6" rx="3" fill="#f25c42" stroke="#3a0a10" stroke-width="1.5"/></g>
<g transform="translate(2235.3,1391) rotate(-52)"><rect x="-25.0" y="-6.8" width="50" height="13.6" rx="3" fill="#f25c42" stroke="#3a0a10" stroke-width="1.5"/></g>
<g transform="translate(2253,1398.5) rotate(-45)"><rect x="-18.0" y="-6.8" width="36" height="13.6" rx="3" fill="#f25c42" stroke="#3a0a10" stroke-width="1.5"/></g>
<ellipse cx="290" cy="850" rx="170" ry="38" fill="#cdd5e0" opacity="0.8"/>
<line x1="200" y1="680" x2="118" y2="645" stroke="#4aa8c8" stroke-width="4" stroke-linecap="round"/>
<circle cx="118" cy="645" r="7" fill="#f8f0e0" stroke="#4aa8c8" stroke-width="4"/>
<line x1="190" y1="695" x2="152" y2="640" stroke="#e8944a" stroke-width="4" stroke-linecap="round"/>
<circle cx="152" cy="640" r="7" fill="#f8f0e0" stroke="#e8944a" stroke-width="4"/>
<line x1="180" y1="706" x2="118" y2="675" stroke="#e8944a" stroke-width="4" stroke-linecap="round"/>
<circle cx="118" cy="675" r="7" fill="#f8f0e0" stroke="#e8944a" stroke-width="4"/>
<line x1="385" y1="680" x2="395" y2="626" stroke="#4aa8c8" stroke-width="4" stroke-linecap="round"/>
<circle cx="395" cy="626" r="7" fill="#f8f0e0" stroke="#4aa8c8" stroke-width="4"/>
<line x1="380" y1="690" x2="430" y2="640" stroke="#7ab0c8" stroke-width="3" stroke-linecap="round"/>
<circle cx="430" cy="640" r="0" fill="#f8f0e0" stroke="#7ab0c8" stroke-width="3"/>
<line x1="170" y1="800" x2="103" y2="812" stroke="#4aa8c8" stroke-width="4" stroke-linecap="round"/>
<circle cx="103" cy="812" r="7" fill="#f8f0e0" stroke="#4aa8c8" stroke-width="4"/>
<line x1="180" y1="815" x2="97" y2="839" stroke="#d8546a" stroke-width="4" stroke-linecap="round"/>
<circle cx="97" cy="839" r="7" fill="#f8f0e0" stroke="#d8546a" stroke-width="4"/>
<line x1="200" y1="825" x2="140" y2="857" stroke="#4aa8c8" stroke-width="4" stroke-linecap="round"/>
<circle cx="140" cy="857" r="7" fill="#f8f0e0" stroke="#4aa8c8" stroke-width="4"/>
<line x1="215" y1="835" x2="178" y2="868" stroke="#4aa8c8" stroke-width="4" stroke-linecap="round"/>
<circle cx="178" cy="868" r="7" fill="#f8f0e0" stroke="#4aa8c8" stroke-width="4"/>
<line x1="370" y1="800" x2="462" y2="839" stroke="#4aa8c8" stroke-width="4" stroke-linecap="round"/>
<circle cx="462" cy="839" r="7" fill="#f8f0e0" stroke="#4aa8c8" stroke-width="4"/>
<line x1="360" y1="812" x2="444" y2="854" stroke="#4aa8c8" stroke-width="4" stroke-linecap="round"/>
<circle cx="444" cy="854" r="7" fill="#f8f0e0" stroke="#4aa8c8" stroke-width="4"/>
<line x1="340" y1="822" x2="366" y2="862" stroke="#d8546a" stroke-width="4" stroke-linecap="round"/>
<circle cx="366" cy="862" r="7" fill="#f8f0e0" stroke="#d8546a" stroke-width="4"/>
<line x1="390" y1="790" x2="452" y2="812" stroke="#4aa8c8" stroke-width="4" stroke-linecap="round"/>
<circle cx="452" cy="812" r="7" fill="#f8f0e0" stroke="#4aa8c8" stroke-width="4"/>
<path d="M109.0,720.0 L286.0,802.0 L286.0,860.0 L109.0,778.0 Z" fill="#1d3366" stroke="#1d3366" stroke-width="10" stroke-linejoin="round"/>
<path d="M286.0,802.0 L458.0,720.0 L458.0,778.0 L286.0,860.0 Z" fill="#182a5a" stroke="#182a5a" stroke-width="10" stroke-linejoin="round"/>
<path d="M109.0,720.0 L286.0,638.0 L458.0,720.0 L286.0,802.0 Z" fill="#2d5f98" stroke="#3fa4d0" stroke-width="6" stroke-linejoin="round"/>
<path d="M169.0,722.0 L286.0,664.0 L397.0,722.0 L286.0,780.0 Z" fill="url(#gOP)"/>
<path d="M190.0,722.0 L286.0,675.0 L376.0,722.0 L286.0,769.0 Z" fill="#1e3774"/>
<line x1="122" y1="765" x2="128" y2="768" stroke="#e8844a" stroke-width="8" stroke-linecap="round"/>
<line x1="138" y1="772" x2="144" y2="775" stroke="#e8844a" stroke-width="8" stroke-linecap="round"/>
<line x1="150" y1="778" x2="156" y2="781" stroke="#e8844a" stroke-width="8" stroke-linecap="round"/>
<line x1="232" y1="805" x2="246" y2="812" stroke="#d84a6a" stroke-width="8" stroke-linecap="round"/>
<line x1="300" y1="820" x2="316" y2="812" stroke="#3a86c8" stroke-width="8" stroke-linecap="round"/>
<line x1="420" y1="758" x2="440" y2="748" stroke="#e8844a" stroke-width="8" stroke-linecap="round"/>
<ellipse cx="140" cy="723" rx="10" ry="6" fill="#5fd0e8"/><ellipse cx="420" cy="723" rx="10" ry="6" fill="#5fd0e8"/><ellipse cx="286" cy="800" rx="10" ry="5" fill="#5fd0e8"/>
<line x1="283" y1="972" x2="283" y2="1005" stroke="#4aa8c0" stroke-width="6" stroke-linecap="round"/>
<ellipse cx="283" cy="1190" rx="110" ry="30" fill="#cdd5e0" opacity="0.65"/>
<line x1="220" y1="1160" x2="181" y2="1191" stroke="#d8546a" stroke-width="3" stroke-linecap="round"/>
<circle cx="181" cy="1191" r="5" fill="#f8f0e0" stroke="#d8546a" stroke-width="3"/>
<line x1="235" y1="1165" x2="202" y2="1198" stroke="#e8844a" stroke-width="3" stroke-linecap="round"/>
<circle cx="202" cy="1198" r="5" fill="#f8f0e0" stroke="#e8844a" stroke-width="3"/>
<line x1="330" y1="1170" x2="374" y2="1193" stroke="#4aa8c8" stroke-width="3" stroke-linecap="round"/>
<circle cx="374" cy="1193" r="5" fill="#f8f0e0" stroke="#4aa8c8" stroke-width="3"/>
<line x1="340" y1="1165" x2="378" y2="1186" stroke="#4aa8c8" stroke-width="3" stroke-linecap="round"/>
<circle cx="378" cy="1186" r="5" fill="#f8f0e0" stroke="#4aa8c8" stroke-width="3"/>
<path d="M176.0,1124.0 L282.0,1174.0 L282.0,1203.0 L176.0,1153.0 Z" fill="#1d3366" stroke="#1d3366" stroke-width="8" stroke-linejoin="round"/>
<path d="M282.0,1174.0 L389.0,1123.0 L389.0,1152.0 L282.0,1203.0 Z" fill="#182a5a" stroke="#182a5a" stroke-width="8" stroke-linejoin="round"/>
<path d="M176.0,1124.0 L282.0,1074.0 L389.0,1123.0 L282.0,1174.0 Z" fill="#2f6aa6" stroke="#3fa4d0" stroke-width="5" stroke-linejoin="round"/>
<line x1="295" y1="1108" x2="330" y2="1092" stroke="#e0585a" stroke-width="3"/>
<line x1="295" y1="1120" x2="330" y2="1104" stroke="#4aa8d8" stroke-width="3"/>
<line x1="295" y1="1132" x2="322" y2="1120" stroke="#e0585a" stroke-width="3"/>
<line x1="207" y1="1040" x2="207" y2="1105" stroke="#4aa8c0" stroke-width="3"/>
<line x1="241" y1="1000" x2="241" y2="1010" stroke="#e8844a" stroke-width="3"/>
<line x1="324" y1="1010" x2="324" y2="1035" stroke="#9ab8c0" stroke-width="3"/>
<line x1="356" y1="1030" x2="356" y2="1080" stroke="#d04a6a" stroke-width="3"/>
<line x1="188" y1="1070" x2="188" y2="1110" stroke="#c8a0b0" stroke-width="3"/>
<circle cx="207" cy="1040" r="5" fill="#4aa8c0"/><circle cx="375" cy="1062" r="8" fill="#d04a6a"/>
<path d="M326,1201 C345,1250 370,1285 430,1300 C460,1306 500,1306 620,1306" fill="none" stroke="#4a9ac0" stroke-width="8" stroke-linecap="round"/>
<path d="M612,1289 L640,1306 L612,1323 L620,1306 Z" fill="#4a9ac0" stroke="#4a9ac0" stroke-width="4" stroke-linejoin="round"/>
<defs><linearGradient id="gArr" x1="845" y1="0" x2="1205" y2="0" gradientUnits="userSpaceOnUse"><stop offset="0" stop-color="#5ac0d0"/><stop offset="1" stop-color="#3a7fb4"/></linearGradient></defs>
<line x1="848" y1="1306" x2="1195" y2="1306" stroke="url(#gArr)" stroke-width="9" stroke-linecap="round"/>
<path d="M1180,1289 L1206,1306 L1180,1323 L1188,1306 Z" fill="#3a7fb4" stroke="#3a7fb4" stroke-width="4" stroke-linejoin="round"/>
<ellipse cx="742" cy="1355" rx="78" ry="22" fill="#cdd5e0" opacity="0.65"/>
<line x1="705" y1="1330" x2="670" y2="1361" stroke="#4aa8c8" stroke-width="3" stroke-linecap="round"/>
<circle cx="670" cy="1361" r="6" fill="#f8f0e0" stroke="#4aa8c8" stroke-width="3"/>
<line x1="780" y1="1335" x2="816" y2="1361" stroke="#d8607a" stroke-width="3" stroke-linecap="round"/>
<circle cx="816" cy="1361" r="6" fill="#f8f0e0" stroke="#d8607a" stroke-width="3"/>
<path d="M664.0,1299.0 L742.0,1349.0 L742.0,1362.0 L664.0,1312.0 Z" fill="#1d3070"/>
<path d="M742.0,1349.0 L819.0,1299.0 L819.0,1312.0 L742.0,1362.0 Z" fill="#182a60"/>
<path d="M664.0,1299.0 L742.0,1258.0 L819.0,1299.0 L742.0,1349.0 Z" fill="#1f4590"/>
<path d="M664.0,1299.0 L742.0,1258.0 L742.0,1349.0 Z" fill="#2a56a0"/>
<rect x="739" y="1228" width="7" height="78" fill="#e06a5a" opacity="0.75"/>
<ellipse cx="742" cy="1306" rx="14" ry="8" fill="#e8603a"/>
<line x1="700" y1="1265" x2="700" y2="1302" stroke="#d0608a" stroke-width="3"/>
<line x1="775" y1="1262" x2="775" y2="1300" stroke="#d0608a" stroke-width="3"/>
<line x1="715" y1="1246" x2="715" y2="1285" stroke="#5ab0d0" stroke-width="3"/>
<line x1="726" y1="1230" x2="726" y2="1280" stroke="#5ab0d0" stroke-width="3"/>
<line x1="768" y1="1238" x2="768" y2="1285" stroke="#5ab0d0" stroke-width="3"/>
<line x1="690" y1="1274" x2="690" y2="1300" stroke="#5ab0d0" stroke-width="3"/>
<line x1="797" y1="1274" x2="797" y2="1300" stroke="#5ab0d0" stroke-width="3"/>
<circle cx="726" cy="1227" r="4" fill="none" stroke="#5ab0d0" stroke-width="3"/><circle cx="769" cy="1236" r="4" fill="none" stroke="#5ab0d0" stroke-width="3"/>
<path d="M684,1234 L697,1256 L671,1256 Z" fill="#e8604a"/><path d="M800,1234 L813,1256 L787,1256 Z" fill="#e8604a"/>
<path d="M666,1273 L680,1273" stroke="#5ab0d0" stroke-width="3"/><circle cx="668" cy="1273" r="5" fill="#5ab0d0"/><circle cx="815" cy="1273" r="5" fill="#5ab0d0"/>
<ellipse cx="1328" cy="1360" rx="110" ry="30" fill="#cdd5e0" opacity="0.65"/>
<line x1="1260" y1="1330" x2="1228" y2="1344" stroke="#2a3a6a" stroke-width="3" stroke-linecap="round"/>
<circle cx="1228" cy="1344" r="4" fill="#f8f0e0" stroke="#2a3a6a" stroke-width="3"/>
<line x1="1268" y1="1340" x2="1240" y2="1358" stroke="#4a6a9a" stroke-width="3" stroke-linecap="round"/>
<circle cx="1240" cy="1358" r="4" fill="#f8f0e0" stroke="#4a6a9a" stroke-width="3"/>
<line x1="1280" y1="1348" x2="1247" y2="1366" stroke="#4aa8c8" stroke-width="3" stroke-linecap="round"/>
<circle cx="1247" cy="1366" r="4" fill="#f8f0e0" stroke="#4aa8c8" stroke-width="3"/>
<line x1="1295" y1="1352" x2="1266" y2="1368" stroke="#4aa8c8" stroke-width="3" stroke-linecap="round"/>
<circle cx="1266" cy="1368" r="4" fill="#f8f0e0" stroke="#4aa8c8" stroke-width="3"/>
<line x1="1370" y1="1345" x2="1390" y2="1362" stroke="#c86a7a" stroke-width="3" stroke-linecap="round"/>
<circle cx="1390" cy="1362" r="4" fill="#f8f0e0" stroke="#c86a7a" stroke-width="3"/>
<line x1="1385" y1="1340" x2="1414" y2="1364" stroke="#2a3a6a" stroke-width="3" stroke-linecap="round"/>
<circle cx="1414" cy="1364" r="4" fill="#f8f0e0" stroke="#2a3a6a" stroke-width="3"/>
<line x1="1395" y1="1330" x2="1428" y2="1344" stroke="#4aa8c8" stroke-width="3" stroke-linecap="round"/>
<circle cx="1428" cy="1344" r="4" fill="#f8f0e0" stroke="#4aa8c8" stroke-width="3"/>
<line x1="1400" y1="1322" x2="1420" y2="1340" stroke="#2a3a6a" stroke-width="3" stroke-linecap="round"/>
<circle cx="1420" cy="1340" r="4" fill="#f8f0e0" stroke="#2a3a6a" stroke-width="3"/>
<path d="M1228.0,1291.0 L1328.0,1343.0 L1328.0,1370.0 L1228.0,1318.0 Z" fill="#1e3a76"/>
<path d="M1328.0,1343.0 L1428.0,1291.0 L1428.0,1318.0 L1328.0,1370.0 Z" fill="#1a2a62"/>
<path d="M1228.0,1291.0 L1328.0,1240.0 L1428.0,1291.0 L1328.0,1343.0 Z" fill="#2a74a8"/>
<path d="M1228,1291 L1328,1240 L1428,1291 L1328,1343 Z" fill="none" stroke="#3fb4d0" stroke-width="4" stroke-linejoin="round"/>
<path d="M1261.0,1289.0 L1328.0,1255.0 L1394.0,1290.0 L1328.0,1325.0 Z" fill="url(#gOP)"/>
<ellipse cx="1328" cy="1298" rx="40" ry="16" fill="#22407e"/>
<path d="M1293,1296 L1293,1250 A35,40 0 0 1 1363,1250 L1363,1296 A35,12 0 0 1 1293,1296 Z" fill="#3a98c0"/>
<path d="M1328,1212 A35,40 0 0 1 1363,1250 L1363,1296 A35,12 0 0 1 1328,1306 Z" fill="#2a5aa0" opacity="0.7"/>
<circle cx="1325" cy="1240" r="16" fill="#e0485a"/>
<line x1="1300" y1="1255" x2="1300" y2="1298" stroke="#1f4a8a" stroke-width="2" opacity="0.6"/>
<line x1="1307" y1="1255" x2="1307" y2="1298" stroke="#1f4a8a" stroke-width="2" opacity="0.6"/>
<line x1="1314" y1="1255" x2="1314" y2="1298" stroke="#1f4a8a" stroke-width="2" opacity="0.6"/>
<line x1="1321" y1="1255" x2="1321" y2="1298" stroke="#1f4a8a" stroke-width="2" opacity="0.6"/>
<line x1="1328" y1="1255" x2="1328" y2="1298" stroke="#1f4a8a" stroke-width="2" opacity="0.6"/>
<line x1="1335" y1="1255" x2="1335" y2="1298" stroke="#1f4a8a" stroke-width="2" opacity="0.6"/>
<line x1="1342" y1="1255" x2="1342" y2="1298" stroke="#1f4a8a" stroke-width="2" opacity="0.6"/>
<line x1="1349" y1="1255" x2="1349" y2="1298" stroke="#1f4a8a" stroke-width="2" opacity="0.6"/>
<line x1="1356" y1="1255" x2="1356" y2="1298" stroke="#1f4a8a" stroke-width="2" opacity="0.6"/>
<circle cx="1245" cy="1250" r="14" fill="#3a5ab8" stroke="#3a5ab8" stroke-width="6.3" stroke-dasharray="7.0,7.0"/>
<circle cx="1245" cy="1250" r="7.7" fill="#e06a8a"/>
<circle cx="1269" cy="1213" r="10" fill="#d8604a" stroke="#d8604a" stroke-width="4.5" stroke-dasharray="5.0,5.0"/>
<circle cx="1269" cy="1213" r="5.5" fill="#f0c080"/>
<circle cx="1401" cy="1227" r="20" fill="#3a5ab8" stroke="#3a5ab8" stroke-width="9.0" stroke-dasharray="10.0,10.0"/>
<circle cx="1401" cy="1227" r="11.0" fill="#e06a8a"/>
<line x1="1269" y1="1224" x2="1269" y2="1260" stroke="#4a7a9a" stroke-width="3"/>
<line x1="1295" y1="1205" x2="1295" y2="1260" stroke="#4a8aa0" stroke-width="3"/>
<line x1="1370" y1="1222" x2="1370" y2="1262" stroke="#4a8aa0" stroke-width="3"/>
<line x1="1401" y1="1250" x2="1401" y2="1275" stroke="#4a8aa0" stroke-width="3"/>
<line x1="1328" y1="1190" x2="1328" y2="1205" stroke="#7ab0c0" stroke-width="3"/>
<line x1="1358" y1="1200" x2="1358" y2="1212" stroke="#e0a060" stroke-width="3"/>
<path d="M651.5,838.0 A110,110 0 1 1 576.5,1028.4 L598.0,1005.4 A78.5,78.5 0 1 0 651.5,869.5 Z" fill="url(#gDonutL)"/>
<path d="M576.5,1028.4 A110,110 0 0 1 651.5,838.0 L651.5,869.5 A78.5,78.5 0 0 0 598.0,1005.4 Z" fill="url(#gBlueL)"/>
<circle cx="651.5" cy="948" r="78.5" fill="#fcf7ee"/>
<linearGradient id="gShL" x1="0" y1="0" x2="0.3" y2="1"><stop offset="0" stop-color="#f7943c"/><stop offset="1" stop-color="#e6404e"/></linearGradient>
<linearGradient id="gShR" x1="0" y1="0" x2="0" y2="1"><stop offset="0" stop-color="#e65478"/><stop offset="1" stop-color="#a82a76"/></linearGradient>
<path d="M602,912 C620,906 636,902 648,897 L637,928 L651.5,939 L639,957 L653,969 L652.5,1007 C630,998 612,985 606,962 C602,945 601,928 602,912 Z" fill="url(#gShL)" stroke="#2a1230" stroke-width="3.6" stroke-linejoin="round"/>
<path d="M662,899.5 C676,904 690,909 703,912 C704,930 703,948 699,962 C692,985 675,998 655,1007 L662.3,966 L651.5,955.5 L666,939 L653.3,926 Z" fill="url(#gShR)" stroke="#2a1230" stroke-width="3.6" stroke-linejoin="round"/>
<path d="M1160,985 C1134,985 1128,952 1150,944 C1150,920 1172,912 1188,920 C1196,892 1246,888 1256,922 C1288,920 1294,985 1262,985 Z" fill="url(#gCloud2)" stroke="#1f3868" stroke-width="5" stroke-linejoin="round"/>
<path d="M1190,937 L1209,958 L1199,958 L1199,1001 L1181,1001 L1181,958 L1171,958 Z" fill="#ef8c4a" stroke="#2a1a3e" stroke-width="3" stroke-linejoin="round"/>
<path d="M1221,952 L1239,952 L1239,994 L1250,994 L1230,1018 L1210,994 L1221,994 Z" fill="#e0506a" stroke="#2a1a3e" stroke-width="3" stroke-linejoin="round"/>
<rect x="1385" y="902" width="52" height="33" rx="7" fill="none" stroke="#6aaac8" stroke-width="4"/>
<path d="M1420,935 L1428,944 L1428,935" fill="#f8f0e0" stroke="#6aaac8" stroke-width="3.5" stroke-linejoin="round"/>
<circle cx="1399" cy="918" r="3" fill="#5a8aa8"/><circle cx="1411" cy="918" r="3" fill="#5a8aa8"/><circle cx="1423" cy="918" r="3" fill="#5a8aa8"/>
<path d="M1458,930 C1456,900 1490,890 1500,910 C1506,930 1506,960 1505,975 L1465,975 C1460,960 1458,945 1458,930 Z" fill="#2a3a78"/>
<path d="M1463,918 L1492,918 L1494,948 C1490,958 1466,958 1462,948 Z" fill="#f29a5a"/>
<path d="M1448,1005 C1450,975 1460,958 1480,955 C1505,955 1516,975 1516,1005 Z" fill="#d8406a" stroke="#2a1a3e" stroke-width="3"/>
<path d="M1380,955 L1455,955 L1462,1003 L1392,1003 Z" fill="#3a7ac8" stroke="#1f3868" stroke-width="3.5" stroke-linejoin="round"/>
<circle cx="1416" cy="981" r="5" fill="#f8f0e0"/>
<line x1="1372" y1="1012" x2="1518" y2="1012" stroke="#1f2a4e" stroke-width="5" stroke-linecap="round"/>
<rect x="1396" y="1003" width="90" height="7" fill="#3a6ab8"/>
<path d="M200.0,652.0 L285.0,697.0 L285.0,773.0 L200.0,728.0 Z" fill="#2a5c98"/>
<path d="M285.0,697.0 L371.0,650.0 L371.0,726.0 L285.0,773.0 Z" fill="#1e2f6c"/>
<path d="M200.0,652.0 L285.0,606.0 L371.0,650.0 L285.0,697.0 Z" fill="#3fb8d6"/>
<path d="M227.4,651.8 L285.2,620.6 L343.6,650.5 L285.2,682.4 Z" fill="#22468a"/>
<path d="M200.0,652.0 L218.7,641.9 L218.7,630.9 L200.0,641.0 Z" fill="#3aa0c8"/>
<path d="M200.0,641.0 L218.7,630.9 L240.1,634.0 L227.4,640.8 Z" fill="#5ad6ea"/>
<path d="M235.7,632.7 L252.7,623.5 L252.7,612.5 L235.7,621.7 Z" fill="#3aa0c8"/>
<path d="M235.7,621.7 L252.7,612.5 L263.2,621.4 L251.6,627.7 Z" fill="#5ad6ea"/>
<path d="M269.7,614.3 L285.0,606.0 L285.0,595.0 L269.7,603.3 Z" fill="#3aa0c8"/>
<path d="M269.7,603.3 L285.0,595.0 L285.2,609.6 L274.8,615.2 Z" fill="#5ad6ea"/>
<path d="M285.0,606.0 L303.9,615.7 L303.9,604.7 L285.0,595.0 Z" fill="#3aa0c8"/>
<path d="M285.0,595.0 L303.9,604.7 L298.0,616.1 L285.2,609.6 Z" fill="#5ad6ea"/>
<path d="M321.1,624.5 L338.3,633.3 L338.3,622.3 L321.1,613.5 Z" fill="#3aa0c8"/>
<path d="M321.1,613.5 L338.3,622.3 L321.4,628.1 L309.7,622.1 Z" fill="#5ad6ea"/>
<path d="M355.5,642.1 L371.0,650.0 L371.0,639.0 L355.5,631.1 Z" fill="#3aa0c8"/>
<path d="M355.5,631.1 L371.0,639.0 L343.6,639.5 L333.1,634.1 Z" fill="#5ad6ea"/>
<path d="M200.0,652.0 L218.7,661.9 L218.7,650.9 L200.0,641.0 Z" fill="#3aa0c8"/>
<path d="M200.0,641.0 L218.7,650.9 L240.1,647.6 L227.4,640.8 Z" fill="#5ad6ea"/>
<path d="M235.7,670.9 L252.7,679.9 L252.7,668.9 L235.7,659.9 Z" fill="#3aa0c8"/>
<path d="M235.7,659.9 L252.7,668.9 L263.2,659.8 L251.6,653.7 Z" fill="#5ad6ea"/>
<path d="M269.7,688.9 L285.0,697.0 L285.0,686.0 L269.7,677.9 Z" fill="#3aa0c8"/>
<path d="M269.7,677.9 L285.0,686.0 L285.2,671.4 L274.8,665.9 Z" fill="#5ad6ea"/>
<path d="M285.0,697.0 L303.9,686.7 L303.9,675.7 L285.0,686.0 Z" fill="#3aa0c8"/>
<path d="M285.0,686.0 L303.9,675.7 L298.0,664.4 L285.2,671.4 Z" fill="#5ad6ea"/>
<path d="M321.1,677.3 L338.3,667.9 L338.3,656.9 L321.1,666.3 Z" fill="#3aa0c8"/>
<path d="M321.1,666.3 L338.3,656.9 L321.4,651.6 L309.7,658.0 Z" fill="#5ad6ea"/>
<path d="M355.5,658.5 L371.0,650.0 L371.0,639.0 L355.5,647.5 Z" fill="#3aa0c8"/>
<path d="M355.5,647.5 L371.0,639.0 L343.6,639.5 L333.1,645.2 Z" fill="#5ad6ea"/>
<line x1="300" y1="730" x2="340" y2="712" stroke="#7a8ae0" stroke-width="3"/>
<line x1="300" y1="742" x2="345" y2="722" stroke="#7a8ae0" stroke-width="3"/>
<line x1="300" y1="754" x2="345" y2="734" stroke="#7a8ae0" stroke-width="3"/>
<line x1="300" y1="718" x2="330" y2="704" stroke="#7a8ae0" stroke-width="3"/>
<line x1="300" y1="766" x2="335" y2="750" stroke="#7a8ae0" stroke-width="3"/>
<line x1="228" y1="700" x2="262" y2="717" stroke="#9a6ab0" stroke-width="6"/><line x1="228" y1="712" x2="250" y2="723" stroke="#e8844a" stroke-width="5"/>
<path d="M276,651 a9,9 0 0 1 18,0" fill="none" stroke="#e8644a" stroke-width="4"/>
<rect x="272" y="650" width="26" height="20" rx="4" fill="#e8644a"/>
<radialGradient id="gGlow" cx="0.5" cy="0.5" r="0.5"><stop offset="0" stop-color="#f8b070"/><stop offset="1" stop-color="#ec6a3a"/></radialGradient>
<path d="M225.0,1055.0 L283.0,1084.0 L283.0,1156.0 L225.0,1127.0 Z" fill="#2f6ab0"/>
<path d="M283.0,1084.0 L341.0,1055.0 L341.0,1127.0 L283.0,1156.0 Z" fill="#1c2a66"/>
<path d="M225.0,1055.0 L281.0,1027.0 L341.0,1055.0 L283.0,1084.0 Z" fill="#3a8ac0"/>
<path d="M238.9,1055.1 L281.5,1033.8 L327.1,1055.1 L283.0,1077.2 Z" fill="url(#gGlow)"/>
<path d="M225.0,1055.0 L241.8,1046.6 L241.8,1037.6 L225.0,1046.0 Z" fill="#2a70b0"/>
<path d="M225.0,1046.0 L241.8,1037.6 L251.7,1039.7 L238.9,1046.1 Z" fill="#6ab8e0"/>
<path d="M264.2,1035.4 L281.0,1027.0 L281.0,1018.0 L264.2,1026.4 Z" fill="#2a70b0"/>
<path d="M264.2,1026.4 L281.0,1018.0 L281.5,1024.8 L268.7,1031.2 Z" fill="#6ab8e0"/>
<path d="M281.0,1027.0 L299.0,1035.4 L299.0,1026.4 L281.0,1018.0 Z" fill="#2a70b0"/>
<path d="M281.0,1018.0 L299.0,1026.4 L295.2,1031.2 L281.5,1024.8 Z" fill="#6ab8e0"/>
<path d="M323.0,1046.6 L341.0,1055.0 L341.0,1046.0 L323.0,1037.6 Z" fill="#2a70b0"/>
<path d="M323.0,1037.6 L341.0,1046.0 L327.1,1046.1 L313.4,1039.7 Z" fill="#6ab8e0"/>
<path d="M225.0,1055.0 L242.4,1063.7 L242.4,1054.7 L225.0,1046.0 Z" fill="#2a70b0"/>
<path d="M225.0,1046.0 L242.4,1054.7 L252.1,1052.7 L238.9,1046.1 Z" fill="#6ab8e0"/>
<path d="M265.6,1075.3 L283.0,1084.0 L283.0,1075.0 L265.6,1066.3 Z" fill="#2a70b0"/>
<path d="M265.6,1066.3 L283.0,1075.0 L283.0,1068.2 L269.8,1061.5 Z" fill="#6ab8e0"/>
<path d="M283.0,1084.0 L300.4,1075.3 L300.4,1066.3 L283.0,1075.0 Z" fill="#2a70b0"/>
<path d="M283.0,1075.0 L300.4,1066.3 L296.2,1061.5 L283.0,1068.2 Z" fill="#6ab8e0"/>
<path d="M323.6,1063.7 L341.0,1055.0 L341.0,1046.0 L323.6,1054.7 Z" fill="#2a70b0"/>
<path d="M323.6,1054.7 L341.0,1046.0 L327.1,1046.1 L313.9,1052.7 Z" fill="#6ab8e0"/>
<line x1="238" y1="1095" x2="238" y2="1131" stroke="#e8844a" stroke-width="3" opacity="0.8"/>
<line x1="246" y1="1098" x2="246" y2="1134" stroke="#d8508a" stroke-width="3" opacity="0.8"/>
<line x1="255" y1="1102" x2="255" y2="1138" stroke="#4ac0d8" stroke-width="3" opacity="0.8"/>
<line x1="264" y1="1106" x2="264" y2="1143" stroke="#e8844a" stroke-width="3" opacity="0.8"/>
<line x1="272" y1="1109" x2="272" y2="1146" stroke="#9a6ab0" stroke-width="3" opacity="0.8"/>
<line x1="292" y1="1108" x2="330" y2="1090" stroke="#e0585a" stroke-width="3"/>
<line x1="292" y1="1120" x2="330" y2="1102" stroke="#4aa8d8" stroke-width="3"/>
<line x1="292" y1="1132" x2="322" y2="1118" stroke="#e0585a" stroke-width="3"/>
<line x1="300" y1="1142" x2="318" y2="1134" stroke="#e0585a" stroke-width="3"/>
<text x="107.5" y="166.0" font-family="'Liberation Sans', sans-serif" font-size="93.0" font-weight="bold" fill="#121a3b" text-anchor="start" textLength="1201.0" lengthAdjust="spacingAndGlyphs">Mexico’s Cybersecurity Surge:</text>
<text x="106.4" y="254.6" font-family="'Liberation Sans', sans-serif" font-size="77.0" font-weight="normal" fill="#121a3b" text-anchor="start" textLength="1168.5" lengthAdjust="spacingAndGlyphs" stroke="#121a3b" stroke-width="1.6" paint-order="stroke">Managed Security Services Market</text>
<text x="106.5" y="331.0" font-family="'Liberation Sans', sans-serif" font-size="76.3" font-weight="normal" fill="#121a3b" text-anchor="start" textLength="292.0" lengthAdjust="spacingAndGlyphs" stroke="#121a3b" stroke-width="1.6" paint-order="stroke">Forecast</text>
<text x="418.0" y="331.0" font-family="'Liberation Sans', sans-serif" font-size="68.3" font-weight="normal" fill="#121a3b" text-anchor="start" textLength="386.0" lengthAdjust="spacingAndGlyphs" stroke="#121a3b" stroke-width="0.6" paint-order="stroke">(2025–2034)</text>
<text x="127.0" y="538.4" font-family="'Liberation Sans', sans-serif" font-size="46.5" font-weight="bold" fill="#121a3b" text-anchor="start" textLength="317.0" lengthAdjust="spacingAndGlyphs">USD 0.40 Billion</text>
<text x="171.0" y="583.0" font-family="'Liberation Sans', sans-serif" font-size="38.5" font-weight="normal" fill="#0f1326" text-anchor="start" textLength="226.0" lengthAdjust="spacingAndGlyphs">Market Value</text>
<text x="211.5" y="949.8" font-family="'Liberation Sans', sans-serif" font-size="68.3" font-weight="bold" fill="#121a3b" text-anchor="start" textLength="144.0" lengthAdjust="spacingAndGlyphs">2025</text>
<text x="752.5" y="798.4" font-family="'Liberation Sans', sans-serif" font-size="40.0" font-weight="bold" fill="#0f1326" text-anchor="start" textLength="584.0" lengthAdjust="spacingAndGlyphs">Market Growth &amp; Driving Forces</text>
<text x="783.0" y="949.8" font-family="'Liberation Sans', sans-serif" font-size="111.9" font-weight="bold" fill="#121a3b" text-anchor="start" textLength="190.0" lengthAdjust="spacingAndGlyphs">62%</text>
<text x="786.0" y="996.0" font-family="'Liberation Sans', sans-serif" font-size="30.5" font-weight="bold" fill="#0f1326" text-anchor="start" textLength="232.8" lengthAdjust="spacingAndGlyphs">Large Enterprises</text>
<text x="786.0" y="1031.0" font-family="'Liberation Sans', sans-serif" font-size="30.5" font-weight="bold" fill="#0f1326" text-anchor="start" textLength="118.0" lengthAdjust="spacingAndGlyphs">Impacted</text>
<text x="549.0" y="1103.0" font-family="'Liberation Sans', sans-serif" font-size="26.2" font-weight="normal" fill="#0f1326" text-anchor="start" textLength="403.0" lengthAdjust="spacingAndGlyphs">Over half of mid-to-large Mexican firms</text>
<text x="549.0" y="1131.0" font-family="'Liberation Sans', sans-serif" font-size="26.2" font-weight="normal" fill="#0f1326" text-anchor="start" textLength="448.0" lengthAdjust="spacingAndGlyphs">reported significant cybersecurity incidents</text>
<text x="549.0" y="1161.0" font-family="'Liberation Sans', sans-serif" font-size="26.2" font-weight="normal" fill="#0f1326" text-anchor="start" textLength="82.0" lengthAdjust="spacingAndGlyphs">in 2025.</text>
<text x="1112.0" y="871.6" font-family="'Liberation Sans', sans-serif" font-size="36.3" font-weight="bold" fill="#0f1326" text-anchor="start" textLength="422.0" lengthAdjust="spacingAndGlyphs">Critical Shift to Digitalisation</text>
<text x="1111.0" y="1055.0" font-family="'Liberation Sans', sans-serif" font-size="30.5" font-weight="bold" fill="#0f1326" text-anchor="start" textLength="204.0" lengthAdjust="spacingAndGlyphs">Cloud Migration</text>
<text x="1360.0" y="1055.0" font-family="'Liberation Sans', sans-serif" font-size="30.5" font-weight="bold" fill="#0f1326" text-anchor="start" textLength="170.0" lengthAdjust="spacingAndGlyphs">Remote Work</text>
<text x="1102.0" y="1102.0" font-family="'Liberation Sans', sans-serif" font-size="26.2" font-weight="normal" fill="#0f1326" text-anchor="start" textLength="428.0" lengthAdjust="spacingAndGlyphs">Cloud migration and remote work models</text>
<text x="1097.0" y="1131.0" font-family="'Liberation Sans', sans-serif" font-size="26.2" font-weight="normal" fill="#0f1326" text-anchor="start" textLength="446.5" lengthAdjust="spacingAndGlyphs">are the primary catalysts for MSS adoption.</text>
<text x="634.0" y="1420.0" font-family="'Liberation Sans', sans-serif" font-size="33.4" font-weight="bold" fill="#0f1326" text-anchor="start" textLength="216.0" lengthAdjust="spacingAndGlyphs">2025: Escalating</text>
<text x="652.7" y="1454.5" font-family="'Liberation Sans', sans-serif" font-size="33.4" font-weight="bold" fill="#0f1326" text-anchor="start" textLength="180.0" lengthAdjust="spacingAndGlyphs">Cyber Threats</text>
<text x="1161.0" y="1420.0" font-family="'Liberation Sans', sans-serif" font-size="33.4" font-weight="bold" fill="#0f1326" text-anchor="start" textLength="336.0" lengthAdjust="spacingAndGlyphs">2034: Advanced AI-driven</text>
<text x="1208.0" y="1455.7" font-family="'Liberation Sans', sans-serif" font-size="33.4" font-weight="bold" fill="#0f1326" text-anchor="start" textLength="242.0" lengthAdjust="spacingAndGlyphs">Threat Intelligence</text>
<text x="2107.0" y="262.4" font-family="'Liberation Sans', sans-serif" font-size="66.9" font-weight="bold" fill="#ffffff" text-anchor="start" textLength="142.0" lengthAdjust="spacingAndGlyphs">2034</text>
<text x="2107.0" y="299.7" font-family="'Liberation Sans', sans-serif" font-size="32.0" font-weight="normal" fill="#ffffff" text-anchor="start" textLength="144.0" lengthAdjust="spacingAndGlyphs">(Projected)</text>
<text x="1946.0" y="402.7" font-family="'Liberation Sans', sans-serif" font-size="71.2" font-weight="bold" fill="#ec7c42" text-anchor="start" textLength="494.0" lengthAdjust="spacingAndGlyphs">USD 1.03 Billion</text>
<text x="2008.0" y="451.6" font-family="'Liberation Sans', sans-serif" font-size="39.2" font-weight="normal" fill="#ffffff" text-anchor="start" textLength="369.0" lengthAdjust="spacingAndGlyphs">Market Value by 2034</text>
<text x="2373.6" y="622.7" font-family="'Liberation Sans', sans-serif" font-size="60.5" font-weight="bold" fill="#ec7c42" text-anchor="start" textLength="150.0" lengthAdjust="spacingAndGlyphs">10.9%</text>
<text x="2399.0" y="667.0" font-family="'Liberation Sans', sans-serif" font-size="40.7" font-weight="normal" fill="#ffffff" text-anchor="start" textLength="98.0" lengthAdjust="spacingAndGlyphs">CAGR</text>
<text x="2226.0" y="723.0" font-family="'Liberation Sans', sans-serif" font-size="27.2" font-weight="normal" fill="#e8ecf4" text-anchor="start" textLength="297.6" lengthAdjust="spacingAndGlyphs">Forecasted growth trajectory</text>
<text x="1896.4" y="798.9" font-family="'Liberation Sans', sans-serif" font-size="37.8" font-weight="bold" fill="#ffffff" text-anchor="start" textLength="566.0" lengthAdjust="spacingAndGlyphs">Market Composition &amp; Leaders</text>
<text x="1755.0" y="1024.3" font-family="'Liberation Sans', sans-serif" font-size="106.1" font-weight="bold" fill="#45c8b8" text-anchor="start" textLength="181.0" lengthAdjust="spacingAndGlyphs">46%</text>
<text x="1748.0" y="1071.5" font-family="'Liberation Sans', sans-serif" font-size="36.3" font-weight="bold" fill="#ffffff" text-anchor="start" textLength="188.6" lengthAdjust="spacingAndGlyphs">Cloud-based</text>
<text x="1760.0" y="1110.0" font-family="'Liberation Sans', sans-serif" font-size="36.3" font-weight="bold" fill="#ffffff" text-anchor="start" textLength="178.4" lengthAdjust="spacingAndGlyphs">Deployment</text>
<text x="2331.5" y="959.6" font-family="'Liberation Sans', sans-serif" font-size="61.9" font-weight="bold" fill="#ec7c42" text-anchor="start" textLength="115.0" lengthAdjust="spacingAndGlyphs">29%</text>
<text x="2331.5" y="1007.5" font-family="'Liberation Sans', sans-serif" font-size="33.0" font-weight="bold" fill="#ffffff" text-anchor="start" textLength="222.0" lengthAdjust="spacingAndGlyphs">Managed SIEM</text>
<text x="2331.5" y="1050.5" font-family="'Liberation Sans', sans-serif" font-size="26.2" font-weight="normal" fill="#e8ecf4" text-anchor="start" textLength="255.0" lengthAdjust="spacingAndGlyphs">Security Information and</text>
<text x="2331.5" y="1079.0" font-family="'Liberation Sans', sans-serif" font-size="26.2" font-weight="normal" fill="#e8ecf4" text-anchor="start" textLength="200.0" lengthAdjust="spacingAndGlyphs">Event Management</text>
<text x="2331.5" y="1108.0" font-family="'Liberation Sans', sans-serif" font-size="26.2" font-weight="normal" fill="#e8ecf4" text-anchor="start" textLength="246.0" lengthAdjust="spacingAndGlyphs">accounts for 29% of the</text>
<text x="2331.5" y="1137.0" font-family="'Liberation Sans', sans-serif" font-size="26.2" font-weight="normal" fill="#e8ecf4" text-anchor="start" textLength="196.0" lengthAdjust="spacingAndGlyphs">total market share.</text>
<text x="1731.0" y="1237.7" font-family="'Liberation Sans', sans-serif" font-size="45.1" font-weight="bold" fill="#ffffff" text-anchor="start" textLength="376.0" lengthAdjust="spacingAndGlyphs">Top Industry Players</text>
<text x="1816.8" y="1323.4" font-family="'Liberation Sans', sans-serif" font-size="39.8" font-weight="normal" fill="#ffffff" text-anchor="start" textLength="308.0" lengthAdjust="spacingAndGlyphs">AT&amp;T Cybersecurity</text>
<text x="2298.5" y="1323.4" font-family="'Liberation Sans', sans-serif" font-size="39.8" font-weight="normal" fill="#ffffff" text-anchor="start" textLength="233.5" lengthAdjust="spacingAndGlyphs">Cisco Systems</text>
<text x="2194.5" y="1333.0" font-family="'Liberation Sans', sans-serif" font-size="23.3" font-weight="bold" fill="#3a9ac4" text-anchor="start" textLength="78.5" lengthAdjust="spacingAndGlyphs">CISCO</text>
<text x="1816.8" y="1403.3" font-family="'Liberation Sans', sans-serif" font-size="39.8" font-weight="normal" fill="#ffffff" text-anchor="start" textLength="197.0" lengthAdjust="spacingAndGlyphs">IBM Security</text>
<text x="2046.8" y="1403.3" font-family="'Liberation Sans', sans-serif" font-size="39.8" font-weight="normal" fill="#ffffff" text-anchor="start" textLength="122.0" lengthAdjust="spacingAndGlyphs">Fortinet</text>
<text x="2293.0" y="1403.3" font-family="'Liberation Sans', sans-serif" font-size="39.8" font-weight="normal" fill="#ffffff" text-anchor="start" textLength="303.0" lengthAdjust="spacingAndGlyphs">Palo Alto Networks</text>
<text x="2372.0" y="1524.0" font-family="'Liberation Sans', sans-serif" font-size="30.5" font-weight="bold" fill="#e0262a" text-anchor="start" font-style="italic" textLength="329.0" lengthAdjust="spacingAndGlyphs">Source: The Report Cube</text>
<rect x="2450" y="20" width="280" height="133" fill="#f8f0e0"/>
<path d="M2638,48 L2672,28 L2707,48 L2707,88 L2672,108 L2638,88 Z" fill="#b80000"/>
<path d="M2638,48 L2672,68 L2707,48 L2672,28 Z" fill="#d81010"/>
<path d="M2672,68 L2707,48 L2707,88 L2672,108 Z" fill="#8a0000"/>
<path d="M2638,48 L2672,68 L2672,108 L2638,88 Z" fill="#c40606"/>
<text x="2461.0" y="134.5" font-family="'Liberation Sans', sans-serif" font-size="98.8" font-weight="normal" fill="#c00000" text-anchor="start" textLength="62.0" lengthAdjust="spacingAndGlyphs" stroke="#c00000" stroke-width="2.2" paint-order="stroke">Я</text>
<text x="2534.0" y="134.5" font-family="'Liberation Sans', sans-serif" font-size="57.4" font-weight="normal" fill="#c00000" text-anchor="start" textLength="130.0" lengthAdjust="spacingAndGlyphs" stroke="#c00000" stroke-width="1.0" paint-order="stroke">Cube</text>
</svg></body></html>
